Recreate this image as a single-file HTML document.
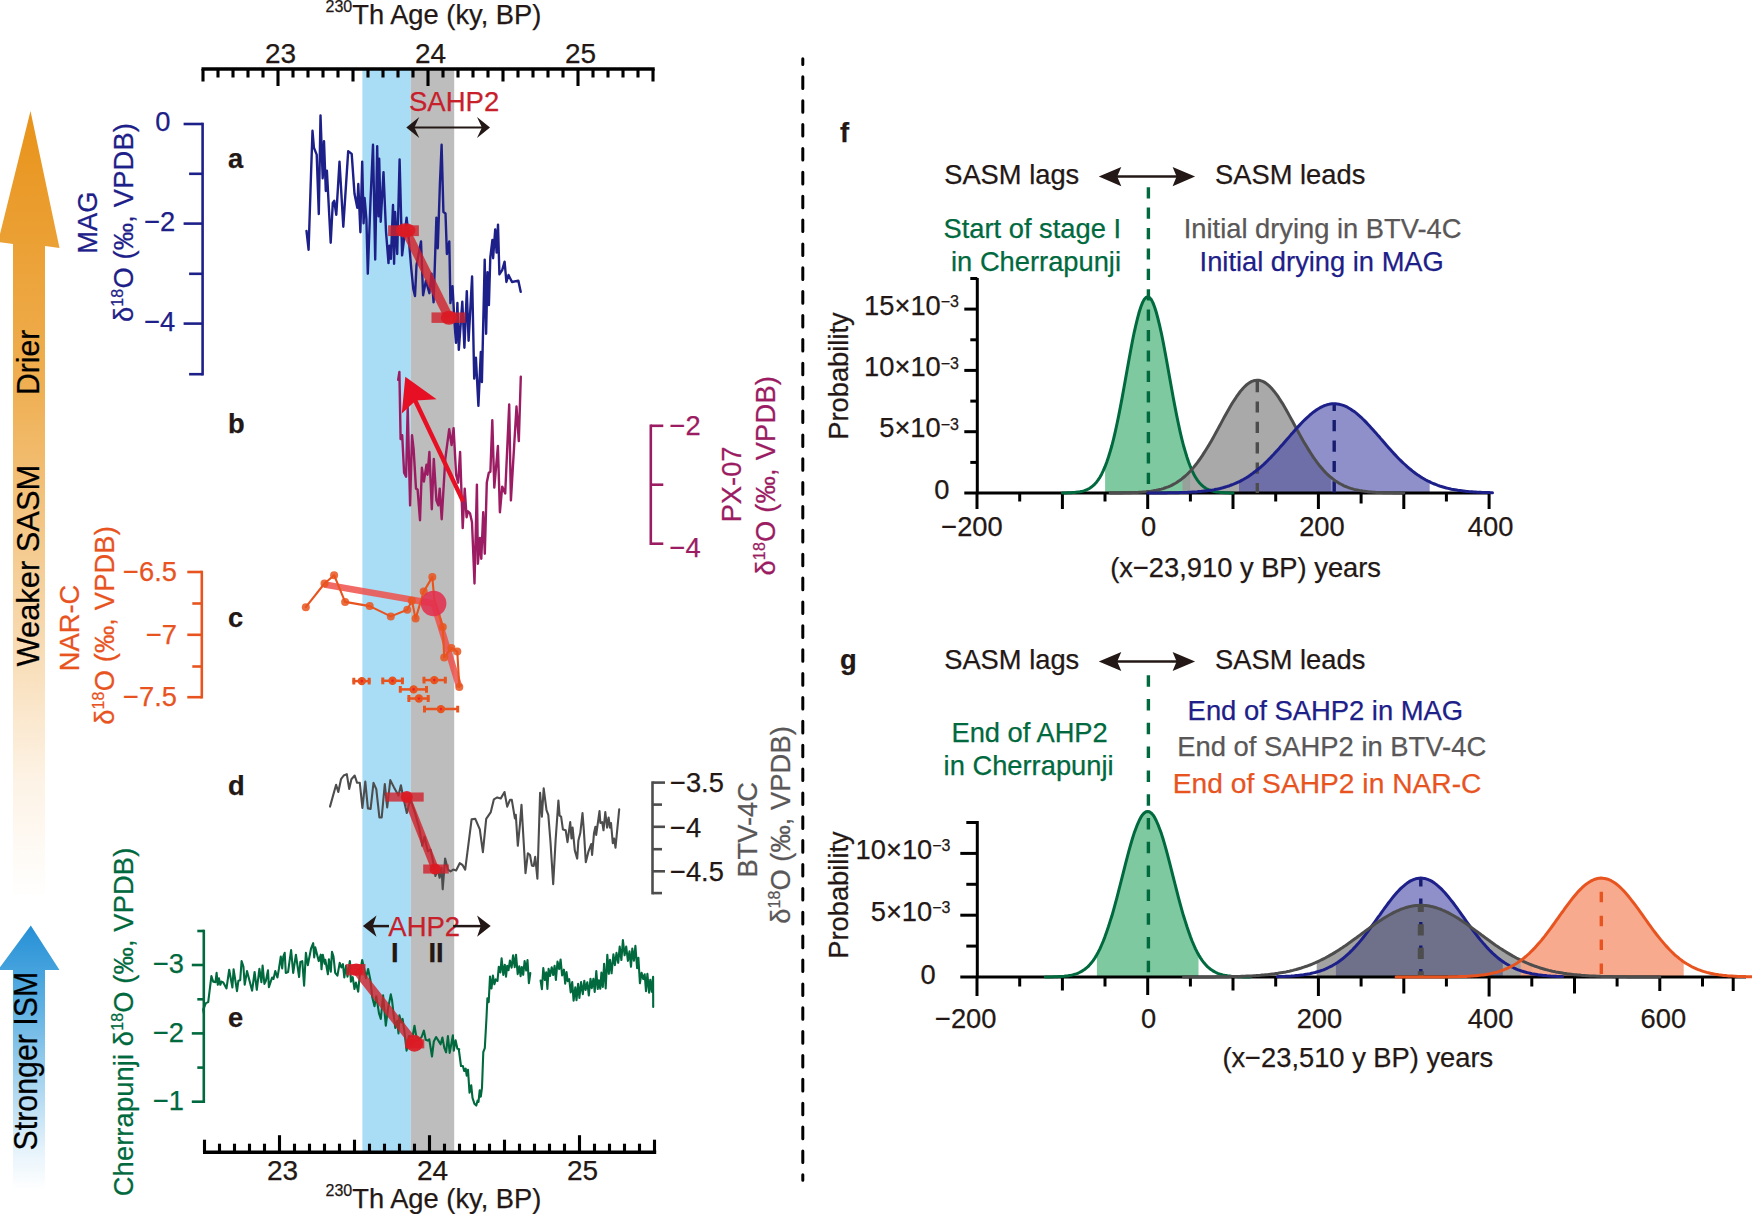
<!DOCTYPE html>
<html><head><meta charset="utf-8"><title>Figure</title>
<style>
html,body{margin:0;padding:0;background:#fff;}
svg{display:block;font-family:"Liberation Sans",sans-serif;}
</style></head><body>
<svg width="1752" height="1214" viewBox="0 0 1752 1214">
<rect width="1752" height="1214" fill="#fff"/>
<rect x="362.4" y="70" width="48.4" height="1081" fill="#a9ddf6"/>
<rect x="410.8" y="70" width="43.4" height="1081" fill="#bdbdbd"/>
<defs>
<linearGradient id="go" x1="0" y1="0" x2="0" y2="1">
<stop offset="0" stop-color="#e8931a"/><stop offset="0.35" stop-color="#efaf52"/><stop offset="0.62" stop-color="#f6d3a2"/><stop offset="0.85" stop-color="#fdf3e6"/><stop offset="1" stop-color="#ffffff"/>
</linearGradient>
<linearGradient id="gb" x1="0" y1="0" x2="0" y2="1">
<stop offset="0" stop-color="#2590d6"/><stop offset="0.3" stop-color="#5db0e2"/><stop offset="0.6" stop-color="#a8d5f0"/><stop offset="0.85" stop-color="#e6f3fb"/><stop offset="1" stop-color="#ffffff"/>
</linearGradient>
</defs>
<path d="M30.5,111 L59.5,248 L45,246 L45,900 L13,900 L13,244 L-2,242 Z" fill="url(#go)"/>
<path d="M30.8,925.5 L59.5,970 L45,970 L45,1190 L13,1190 L13,970 L-2,970 Z" fill="url(#gb)"/>
<text x="39.4" y="395.0" fill="#000" stroke="#000" stroke-width="0.25" font-size="32" text-anchor="start" font-weight="normal" transform="rotate(-90 39.4 395.0)" textLength="65.3" lengthAdjust="spacingAndGlyphs">Drier</text>
<text x="39.4" y="666.5" fill="#000" stroke="#000" stroke-width="0.25" font-size="32" text-anchor="start" font-weight="normal" transform="rotate(-90 39.4 666.5)" textLength="201.7" lengthAdjust="spacingAndGlyphs">Weaker SASM</text>
<text x="37.5" y="1150.4" fill="#000" stroke="#000" stroke-width="0.25" font-size="33" text-anchor="start" font-weight="normal" transform="rotate(-90 37.5 1150.4)" textLength="178.6" lengthAdjust="spacingAndGlyphs">Stronger ISM</text>
<line x1="201.5" y1="69" x2="654.7" y2="69" stroke="#000" stroke-width="3.3"/>
<line x1="203.0" y1="69" x2="203.0" y2="81.5" stroke="#000" stroke-width="3.1"/>
<line x1="218.0" y1="69" x2="218.0" y2="77.5" stroke="#000" stroke-width="3.1"/>
<line x1="233.0" y1="69" x2="233.0" y2="77.5" stroke="#000" stroke-width="3.1"/>
<line x1="248.0" y1="69" x2="248.0" y2="77.5" stroke="#000" stroke-width="3.1"/>
<line x1="263.0" y1="69" x2="263.0" y2="77.5" stroke="#000" stroke-width="3.1"/>
<line x1="278.0" y1="69" x2="278.0" y2="86.0" stroke="#000" stroke-width="3.1"/>
<line x1="293.0" y1="69" x2="293.0" y2="77.5" stroke="#000" stroke-width="3.1"/>
<line x1="308.0" y1="69" x2="308.0" y2="77.5" stroke="#000" stroke-width="3.1"/>
<line x1="323.0" y1="69" x2="323.0" y2="77.5" stroke="#000" stroke-width="3.1"/>
<line x1="338.0" y1="69" x2="338.0" y2="77.5" stroke="#000" stroke-width="3.1"/>
<line x1="353.0" y1="69" x2="353.0" y2="81.5" stroke="#000" stroke-width="3.1"/>
<line x1="368.0" y1="69" x2="368.0" y2="77.5" stroke="#000" stroke-width="3.1"/>
<line x1="383.0" y1="69" x2="383.0" y2="77.5" stroke="#000" stroke-width="3.1"/>
<line x1="398.0" y1="69" x2="398.0" y2="77.5" stroke="#000" stroke-width="3.1"/>
<line x1="413.0" y1="69" x2="413.0" y2="77.5" stroke="#000" stroke-width="3.1"/>
<line x1="428.0" y1="69" x2="428.0" y2="86.0" stroke="#000" stroke-width="3.1"/>
<line x1="443.0" y1="69" x2="443.0" y2="77.5" stroke="#000" stroke-width="3.1"/>
<line x1="458.0" y1="69" x2="458.0" y2="77.5" stroke="#000" stroke-width="3.1"/>
<line x1="473.0" y1="69" x2="473.0" y2="77.5" stroke="#000" stroke-width="3.1"/>
<line x1="488.0" y1="69" x2="488.0" y2="77.5" stroke="#000" stroke-width="3.1"/>
<line x1="503.0" y1="69" x2="503.0" y2="81.5" stroke="#000" stroke-width="3.1"/>
<line x1="518.0" y1="69" x2="518.0" y2="77.5" stroke="#000" stroke-width="3.1"/>
<line x1="533.0" y1="69" x2="533.0" y2="77.5" stroke="#000" stroke-width="3.1"/>
<line x1="548.0" y1="69" x2="548.0" y2="77.5" stroke="#000" stroke-width="3.1"/>
<line x1="563.0" y1="69" x2="563.0" y2="77.5" stroke="#000" stroke-width="3.1"/>
<line x1="578.0" y1="69" x2="578.0" y2="86.0" stroke="#000" stroke-width="3.1"/>
<line x1="593.0" y1="69" x2="593.0" y2="77.5" stroke="#000" stroke-width="3.1"/>
<line x1="608.0" y1="69" x2="608.0" y2="77.5" stroke="#000" stroke-width="3.1"/>
<line x1="623.0" y1="69" x2="623.0" y2="77.5" stroke="#000" stroke-width="3.1"/>
<line x1="638.0" y1="69" x2="638.0" y2="77.5" stroke="#000" stroke-width="3.1"/>
<line x1="653.0" y1="69" x2="653.0" y2="81.5" stroke="#000" stroke-width="3.1"/>
<line x1="203.0" y1="1152.2" x2="656.2" y2="1152.2" stroke="#000" stroke-width="3.6"/>
<line x1="204.5" y1="1152.2" x2="204.5" y2="1139.7" stroke="#000" stroke-width="3.1"/>
<line x1="219.5" y1="1152.2" x2="219.5" y2="1143.7" stroke="#000" stroke-width="3.1"/>
<line x1="234.5" y1="1152.2" x2="234.5" y2="1143.7" stroke="#000" stroke-width="3.1"/>
<line x1="249.5" y1="1152.2" x2="249.5" y2="1143.7" stroke="#000" stroke-width="3.1"/>
<line x1="264.5" y1="1152.2" x2="264.5" y2="1143.7" stroke="#000" stroke-width="3.1"/>
<line x1="279.5" y1="1152.2" x2="279.5" y2="1135.2" stroke="#000" stroke-width="3.1"/>
<line x1="294.5" y1="1152.2" x2="294.5" y2="1143.7" stroke="#000" stroke-width="3.1"/>
<line x1="309.5" y1="1152.2" x2="309.5" y2="1143.7" stroke="#000" stroke-width="3.1"/>
<line x1="324.5" y1="1152.2" x2="324.5" y2="1143.7" stroke="#000" stroke-width="3.1"/>
<line x1="339.5" y1="1152.2" x2="339.5" y2="1143.7" stroke="#000" stroke-width="3.1"/>
<line x1="354.5" y1="1152.2" x2="354.5" y2="1139.7" stroke="#000" stroke-width="3.1"/>
<line x1="369.5" y1="1152.2" x2="369.5" y2="1143.7" stroke="#000" stroke-width="3.1"/>
<line x1="384.5" y1="1152.2" x2="384.5" y2="1143.7" stroke="#000" stroke-width="3.1"/>
<line x1="399.5" y1="1152.2" x2="399.5" y2="1143.7" stroke="#000" stroke-width="3.1"/>
<line x1="414.5" y1="1152.2" x2="414.5" y2="1143.7" stroke="#000" stroke-width="3.1"/>
<line x1="429.5" y1="1152.2" x2="429.5" y2="1135.2" stroke="#000" stroke-width="3.1"/>
<line x1="444.5" y1="1152.2" x2="444.5" y2="1143.7" stroke="#000" stroke-width="3.1"/>
<line x1="459.5" y1="1152.2" x2="459.5" y2="1143.7" stroke="#000" stroke-width="3.1"/>
<line x1="474.5" y1="1152.2" x2="474.5" y2="1143.7" stroke="#000" stroke-width="3.1"/>
<line x1="489.5" y1="1152.2" x2="489.5" y2="1143.7" stroke="#000" stroke-width="3.1"/>
<line x1="504.5" y1="1152.2" x2="504.5" y2="1139.7" stroke="#000" stroke-width="3.1"/>
<line x1="519.5" y1="1152.2" x2="519.5" y2="1143.7" stroke="#000" stroke-width="3.1"/>
<line x1="534.5" y1="1152.2" x2="534.5" y2="1143.7" stroke="#000" stroke-width="3.1"/>
<line x1="549.5" y1="1152.2" x2="549.5" y2="1143.7" stroke="#000" stroke-width="3.1"/>
<line x1="564.5" y1="1152.2" x2="564.5" y2="1143.7" stroke="#000" stroke-width="3.1"/>
<line x1="579.5" y1="1152.2" x2="579.5" y2="1135.2" stroke="#000" stroke-width="3.1"/>
<line x1="594.5" y1="1152.2" x2="594.5" y2="1143.7" stroke="#000" stroke-width="3.1"/>
<line x1="609.5" y1="1152.2" x2="609.5" y2="1143.7" stroke="#000" stroke-width="3.1"/>
<line x1="624.5" y1="1152.2" x2="624.5" y2="1143.7" stroke="#000" stroke-width="3.1"/>
<line x1="639.5" y1="1152.2" x2="639.5" y2="1143.7" stroke="#000" stroke-width="3.1"/>
<line x1="654.5" y1="1152.2" x2="654.5" y2="1139.7" stroke="#000" stroke-width="3.1"/>
<text x="280.5" y="62.8" fill="#231815" stroke="#231815" stroke-width="0.25" font-size="28" text-anchor="middle" font-weight="normal" >23</text>
<text x="282.5" y="1180.0" fill="#231815" stroke="#231815" stroke-width="0.25" font-size="28" text-anchor="middle" font-weight="normal" >23</text>
<text x="430.5" y="62.8" fill="#231815" stroke="#231815" stroke-width="0.25" font-size="28" text-anchor="middle" font-weight="normal" >24</text>
<text x="432.5" y="1180.0" fill="#231815" stroke="#231815" stroke-width="0.25" font-size="28" text-anchor="middle" font-weight="normal" >24</text>
<text x="580.5" y="62.8" fill="#231815" stroke="#231815" stroke-width="0.25" font-size="28" text-anchor="middle" font-weight="normal" >25</text>
<text x="582.5" y="1180.0" fill="#231815" stroke="#231815" stroke-width="0.25" font-size="28" text-anchor="middle" font-weight="normal" >25</text>
<text x="325.5" y="23.5" fill="#231815" stroke="#231815" stroke-width="0.25" font-size="27.3" text-anchor="start" font-weight="normal" ><tspan font-size="16" dy="-12">230</tspan><tspan dy="12">Th Age (ky, BP)</tspan></text>
<text x="325.5" y="1207.5" fill="#231815" stroke="#231815" stroke-width="0.25" font-size="27.3" text-anchor="start" font-weight="normal" ><tspan font-size="16" dy="-12">230</tspan><tspan dy="12">Th Age (ky, BP)</tspan></text>
<line x1="202.6" y1="124.0" x2="202.6" y2="374.2" stroke="#1d2088" stroke-width="2.6" stroke-linecap="square"/>
<line x1="202.6" y1="124.0" x2="183.6" y2="124.0" stroke="#1d2088" stroke-width="2.6"/>
<line x1="202.6" y1="223.6" x2="183.6" y2="223.6" stroke="#1d2088" stroke-width="2.6"/>
<line x1="202.6" y1="323.6" x2="183.6" y2="323.6" stroke="#1d2088" stroke-width="2.6"/>
<line x1="202.6" y1="173.8" x2="189.1" y2="173.8" stroke="#1d2088" stroke-width="2.6"/>
<line x1="202.6" y1="273.8" x2="189.1" y2="273.8" stroke="#1d2088" stroke-width="2.6"/>
<line x1="202.6" y1="374.2" x2="189.1" y2="374.2" stroke="#1d2088" stroke-width="2.6"/>
<text x="170.5" y="131.4" fill="#1d2088" stroke="#1d2088" stroke-width="0.25" font-size="27.3" text-anchor="end" font-weight="normal" >0</text>
<text x="175.3" y="231.0" fill="#1d2088" stroke="#1d2088" stroke-width="0.25" font-size="27.3" text-anchor="end" font-weight="normal" >−2</text>
<text x="175.3" y="331.0" fill="#1d2088" stroke="#1d2088" stroke-width="0.25" font-size="27.3" text-anchor="end" font-weight="normal" >−4</text>
<text x="97.5" y="222.6" fill="#1d2088" stroke="#1d2088" stroke-width="0.25" font-size="27.3" text-anchor="middle" font-weight="normal" transform="rotate(-90 97.5 222.6)" >MAG</text>
<text x="133.0" y="222.6" fill="#1d2088" stroke="#1d2088" stroke-width="0.25" font-size="27.3" text-anchor="middle" font-weight="normal" transform="rotate(-90 133.0 222.6)" textLength="199">δ<tspan font-size="16" dy="-10">18</tspan><tspan dy="10">O (‰, VPDB)</tspan></text>
<line x1="201.8" y1="572.0" x2="201.8" y2="697.2" stroke="#e8541f" stroke-width="2.6" stroke-linecap="square"/>
<line x1="201.8" y1="572.0" x2="187.3" y2="572.0" stroke="#e8541f" stroke-width="2.6"/>
<line x1="201.8" y1="634.8" x2="187.3" y2="634.8" stroke="#e8541f" stroke-width="2.6"/>
<line x1="201.8" y1="697.2" x2="187.3" y2="697.2" stroke="#e8541f" stroke-width="2.6"/>
<line x1="201.8" y1="603.5" x2="192.3" y2="603.5" stroke="#e8541f" stroke-width="2.6"/>
<line x1="201.8" y1="666.5" x2="192.3" y2="666.5" stroke="#e8541f" stroke-width="2.6"/>
<text x="177.0" y="580.7" fill="#e8541f" stroke="#e8541f" stroke-width="0.25" font-size="27.3" text-anchor="end" font-weight="normal" >−6.5</text>
<text x="177.0" y="643.5" fill="#e8541f" stroke="#e8541f" stroke-width="0.25" font-size="27.3" text-anchor="end" font-weight="normal" >−7</text>
<text x="177.0" y="705.9" fill="#e8541f" stroke="#e8541f" stroke-width="0.25" font-size="27.3" text-anchor="end" font-weight="normal" >−7.5</text>
<text x="78.6" y="628.0" fill="#e8541f" stroke="#e8541f" stroke-width="0.25" font-size="27.3" text-anchor="middle" font-weight="normal" transform="rotate(-90 78.6 628.0)" >NAR-C</text>
<text x="114.2" y="625.5" fill="#e8541f" stroke="#e8541f" stroke-width="0.25" font-size="27.3" text-anchor="middle" font-weight="normal" transform="rotate(-90 114.2 625.5)" textLength="198.5">δ<tspan font-size="16" dy="-10">18</tspan><tspan dy="10">O (‰, VPDB)</tspan></text>
<line x1="203.8" y1="931.0" x2="203.8" y2="1101.7" stroke="#00693e" stroke-width="2.6" stroke-linecap="square"/>
<line x1="203.8" y1="965.0" x2="191.8" y2="965.0" stroke="#00693e" stroke-width="2.6"/>
<line x1="203.8" y1="1033.4" x2="191.8" y2="1033.4" stroke="#00693e" stroke-width="2.6"/>
<line x1="203.8" y1="1101.7" x2="191.8" y2="1101.7" stroke="#00693e" stroke-width="2.6"/>
<line x1="203.8" y1="931.0" x2="197.3" y2="931.0" stroke="#00693e" stroke-width="2.6"/>
<line x1="203.8" y1="999.3" x2="197.3" y2="999.3" stroke="#00693e" stroke-width="2.6"/>
<line x1="203.8" y1="1067.6" x2="197.3" y2="1067.6" stroke="#00693e" stroke-width="2.6"/>
<text x="184.0" y="973.2" fill="#00693e" stroke="#00693e" stroke-width="0.25" font-size="27.3" text-anchor="end" font-weight="normal" >−3</text>
<text x="184.0" y="1041.6" fill="#00693e" stroke="#00693e" stroke-width="0.25" font-size="27.3" text-anchor="end" font-weight="normal" >−2</text>
<text x="184.0" y="1109.9" fill="#00693e" stroke="#00693e" stroke-width="0.25" font-size="27.3" text-anchor="end" font-weight="normal" >−1</text>
<text x="133.0" y="1022.0" fill="#00693e" stroke="#00693e" stroke-width="0.25" font-size="27.3" text-anchor="middle" font-weight="normal" transform="rotate(-90 133.0 1022.0)" textLength="348.5">Cherrapunji δ<tspan font-size="16" dy="-10">18</tspan><tspan dy="10">O (‰, VPDB)</tspan></text>
<line x1="650.8" y1="425.8" x2="650.8" y2="543.7" stroke="#9b1c62" stroke-width="2.6" stroke-linecap="square"/>
<line x1="650.8" y1="425.8" x2="663.3" y2="425.8" stroke="#9b1c62" stroke-width="2.6"/>
<line x1="650.8" y1="484.7" x2="663.3" y2="484.7" stroke="#9b1c62" stroke-width="2.6"/>
<line x1="650.8" y1="543.7" x2="663.3" y2="543.7" stroke="#9b1c62" stroke-width="2.6"/>
<text x="669.5" y="434.5" fill="#9b1c62" stroke="#9b1c62" stroke-width="0.25" font-size="27.3" text-anchor="start" font-weight="normal" >−2</text>
<text x="669.5" y="557.0" fill="#9b1c62" stroke="#9b1c62" stroke-width="0.25" font-size="27.3" text-anchor="start" font-weight="normal" >−4</text>
<text x="741.0" y="484.4" fill="#9b1c62" stroke="#9b1c62" stroke-width="0.25" font-size="27.3" text-anchor="middle" font-weight="normal" transform="rotate(-90 741.0 484.4)" >PX-07</text>
<text x="775.0" y="475.8" fill="#9b1c62" stroke="#9b1c62" stroke-width="0.25" font-size="27.3" text-anchor="middle" font-weight="normal" transform="rotate(-90 775.0 475.8)" textLength="199.5">δ<tspan font-size="16" dy="-10">18</tspan><tspan dy="10">O (‰, VPDB)</tspan></text>
<line x1="652.5" y1="782.6" x2="652.5" y2="893.1" stroke="#4d4d4d" stroke-width="2.6" stroke-linecap="square"/>
<line x1="652.5" y1="782.6" x2="665.0" y2="782.6" stroke="#4d4d4d" stroke-width="2.6"/>
<line x1="652.5" y1="826.8" x2="665.0" y2="826.8" stroke="#4d4d4d" stroke-width="2.6"/>
<line x1="652.5" y1="871.3" x2="665.0" y2="871.3" stroke="#4d4d4d" stroke-width="2.6"/>
<line x1="652.5" y1="804.6" x2="662.0" y2="804.6" stroke="#4d4d4d" stroke-width="2.6"/>
<line x1="652.5" y1="849.2" x2="662.0" y2="849.2" stroke="#4d4d4d" stroke-width="2.6"/>
<line x1="652.5" y1="893.1" x2="662.0" y2="893.1" stroke="#4d4d4d" stroke-width="2.6"/>
<text x="670.0" y="792.3" fill="#231815" stroke="#231815" stroke-width="0.25" font-size="27.3" text-anchor="start" font-weight="normal" >−3.5</text>
<text x="670.0" y="836.5" fill="#231815" stroke="#231815" stroke-width="0.25" font-size="27.3" text-anchor="start" font-weight="normal" >−4</text>
<text x="670.0" y="881.0" fill="#231815" stroke="#231815" stroke-width="0.25" font-size="27.3" text-anchor="start" font-weight="normal" >−4.5</text>
<text x="757.5" y="829.8" fill="#595757" stroke="#595757" stroke-width="0.25" font-size="27.3" text-anchor="middle" font-weight="normal" transform="rotate(-90 757.5 829.8)" >BTV-4C</text>
<text x="789.6" y="825.0" fill="#595757" stroke="#595757" stroke-width="0.25" font-size="27.3" text-anchor="middle" font-weight="normal" transform="rotate(-90 789.6 825.0)" textLength="197.5">δ<tspan font-size="16" dy="-10">18</tspan><tspan dy="10">O (‰, VPDB)</tspan></text>
<polyline points="306.5,230.9 308.6,249.8 310.7,184.0 312.5,130.8 313.9,147.6 316.7,154.6 318.8,214.1 320.5,115.4 322.7,178.4 324.0,141.3 325.8,191.0 326.9,170.7 330.7,242.8 332.8,202.9 334.2,200.8 336.3,214.8 339.5,161.6 343.3,226.7 348.2,151.1 351.7,153.9 354.5,193.8 357.3,207.8 358.3,184.0 360.4,232.3 362.2,161.6 363.6,223.2 364.6,198.0 366.4,219.0 367.8,273.6 370.6,198.0 373.0,144.8 375.2,259.6 377.2,146.2 378.5,216.2 379.2,158.8 380.7,221.8 383.5,172.1 386.0,231.6 388.5,263.1 389.5,245.6 390.9,258.9 393.0,205.0 394.1,263.8 395.1,212.0 397.2,254.0 399.6,159.5 402.1,255.4 406.6,217.6 408.4,234.4 411.2,268.0 413.3,289.0 415.0,296.0 416.5,265.2 421.0,241.4 423.1,295.3 425.9,280.6 429.4,293.2 431.5,273.6 433.6,302.3 436.4,217.6 437.8,248.4 439.9,184.0 441.6,144.8 443.4,212.0 445.5,213.4 446.9,254.0 449.3,241.4 450.4,303.0 452.5,286.2 454.6,324.0 456.0,342.9 457.4,303.0 458.8,349.9 462.3,301.6 464.4,347.8 466.8,291.1 468.6,340.8 472.1,276.4 474.2,378.6 475.9,357.6 478.4,405.9 480.8,352.0 481.9,382.1 484.7,259.6 486.1,333.8 487.5,272.2 488.9,305.1 490.3,257.5 492.4,240.0 493.1,258.2 495.2,229.5 496.6,252.6 498.0,224.6 499.4,274.3 502.2,270.1 504.6,261.7 506.4,282.0 508.5,275.0 512.0,282.0 518.3,280.6 520.7,291.8" fill="none" stroke="#1d2088" stroke-width="2.4" stroke-linejoin="round" stroke-linecap="round" />
<polyline points="398.2,379.8 399.4,371.9 400.6,439.1 402.2,435.2 404.1,472.7 406.1,476.7 407.7,407.5 410.1,505.4 412.0,435.2 413.6,449.0 416.0,488.6 417.6,489.5 420.0,520.2 421.9,467.8 423.9,481.6 426.5,464.8 427.5,474.7 429.4,452.0 431.8,509.3 433.8,458.9 436.4,500.4 438.3,505.4 439.7,488.6 441.7,519.2 445.3,458.9 449.2,429.2 451.6,445.0 453.6,428.2 456.1,474.7 458.1,482.6 460.1,452.0 462.7,528.1 464.7,488.6 466.6,517.2 468.0,511.3 470.0,513.3 472.0,522.2 474.5,583.5 476.9,484.6 477.9,563.7 479.9,538.0 481.3,558.8 483.2,512.3 484.8,553.8 486.8,482.6 488.8,472.7 490.4,471.7 492.3,420.3 494.3,487.6 497.9,446.0 499.9,512.3 502.2,486.6 505.2,493.5 509.2,404.5 510.9,500.4 516.5,406.5 518.8,441.1 520.8,376.8" fill="none" stroke="#9b1c62" stroke-width="2.4" stroke-linejoin="round" stroke-linecap="round" />
<polyline points="330.0,806.6 336.1,784.7 338.3,792.0 341.0,779.2 343.7,775.5 346.8,774.2 349.2,788.9 351.4,779.2 354.7,775.5 357.1,782.8 359.8,782.8 362.4,807.9 365.3,781.6 367.9,808.4 370.6,808.9 373.5,782.8 376.3,789.2 379.4,817.5 381.7,817.5 384.8,784.1 387.2,807.5 390.3,780.1 394.0,787.4 398.5,795.6 400.9,785.2 403.1,796.5 406.8,813.0 410.4,799.3 415.0,813.0 419.5,829.4 422.3,845.8 424.5,836.7 427.8,851.3 430.5,849.5 433.2,862.3 435.4,876.0 437.8,869.6 439.6,877.8 441.5,867.8 442.7,889.3 445.1,858.6 447.9,869.6 450.6,871.4 453.3,869.6 456.1,870.5 459.7,863.2 462.5,865.0 465.2,869.6 471.6,819.4 475.3,818.8 479.8,829.4 482.9,852.2 486.2,818.8 490.8,812.1 493.9,799.3 497.2,797.4 500.8,798.4 504.5,792.0 507.2,806.6 510.0,799.8 511.8,799.8 514.9,818.4 515.8,814.8 517.8,845.8 520.0,823.9 521.5,804.7 525.5,873.2 527.9,853.2 530.0,855.0 531.9,865.6 533.7,865.9 535.2,856.8 537.4,878.7 540.1,792.9 541.9,816.6 543.7,788.3 546.5,810.2 548.3,814.8 550.5,842.2 553.2,884.2 555.6,840.4 558.4,800.5 559.6,815.7 561.1,816.6 562.9,829.4 565.7,830.3 567.5,842.2 570.2,822.1 571.5,838.5 572.6,827.6 574.8,850.4 577.2,858.6 578.4,840.4 580.3,833.1 582.5,813.0 583.9,831.2 585.8,862.3 588.5,851.3 591.2,844.0 592.1,855.0 594.0,833.1 595.4,826.7 596.2,834.9 599.5,811.1 600.4,823.0 602.2,822.1 603.5,830.3 605.3,812.1 607.1,827.6 608.6,817.5 610.0,827.6 611.0,823.0 612.8,843.1 614.1,838.5 615.5,847.7 619.2,809.3" fill="none" stroke="#4d4d4d" stroke-width="2.1" stroke-linejoin="round" stroke-linecap="round" />
<polyline points="203.8,1013.0 203.2,1009.5 205.9,1003.1 208.2,1002.1 211.4,976.1 213.2,981.6 215.5,982.1 216.6,972.9 217.8,984.8 219.0,978.4 220.3,984.8 221.5,981.6 223.3,982.5 226.5,988.4 229.2,969.7 232.4,987.5 233.6,969.3 237.0,991.2 238.4,980.7 240.2,980.2 241.6,961.1 243.4,966.5 244.7,984.8 247.0,971.1 252.1,990.7 254.6,972.0 256.8,989.8 259.4,968.8 261.4,982.1 262.6,965.6 264.4,983.9 265.8,981.1 268.0,970.2 268.9,987.1 272.1,977.5 273.5,978.9 275.3,971.1 277.4,977.5 279.0,968.4 280.8,956.5 282.2,968.4 283.3,956.5 284.7,952.8 285.8,972.9 288.1,972.0 289.0,965.2 291.1,950.1 293.2,972.9 295.9,954.7 299.1,977.0 300.3,962.0 302.3,961.1 304.1,985.7 305.9,952.8 307.8,965.2 311.0,948.7 313.2,943.2 314.2,957.4 315.3,947.4 318.7,961.1 320.7,954.7 321.5,969.3 322.8,954.7 324.7,963.8 325.3,959.7 327.9,974.3 328.9,959.2 330.8,971.6 332.0,951.9 333.5,956.5 335.2,972.9 337.4,975.7 339.7,962.9 341.4,967.4 342.9,964.2 344.3,977.5 346.1,965.6 347.5,976.6 349.8,961.1 350.0,961.8 350.9,981.7 352.7,977.2 354.5,989.0 355.9,982.6 358.2,991.7 360.0,972.7 362.2,960.0 364.5,969.9 365.9,978.1 368.1,969.0 370.4,979.9 372.2,997.1 374.5,1006.2 376.3,996.2 379.0,1013.4 380.8,1018.9 383.1,995.3 385.8,1025.7 388.1,1008.0 390.8,994.4 392.1,1000.8 393.5,1013.4 395.3,1027.9 397.1,1020.7 398.5,1033.4 399.4,1015.3 401.2,1022.5 402.6,1018.9 404.4,1031.6 406.6,1050.6 408.9,1036.1 412.5,1037.0 414.5,1025.7 416.2,1036.1 418.9,1039.7 421.6,1037.0 423.9,1030.7 425.7,1039.7 427.9,1040.6 429.3,1039.3 432.0,1056.5 433.8,1041.5 436.1,1037.0 438.4,1040.6 440.6,1044.3 442.4,1037.5 444.3,1047.9 446.1,1052.4 447.9,1036.1 449.7,1052.9 452.9,1035.2 453.8,1050.6 455.6,1040.2 457.4,1048.8 459.2,1049.2 458.8,1049.4 461.0,1066.0 462.9,1066.0 464.2,1071.1 465.7,1068.6 466.7,1075.6 468.0,1069.8 469.5,1092.8 471.2,1085.2 472.5,1097.9 474.4,1103.7 476.3,1105.6 477.6,1100.5 478.5,1101.8 479.7,1090.3 480.8,1096.7 482.0,1087.7 483.3,1052.0 484.8,1048.1 486.5,1017.5 487.4,998.3 488.7,1002.1 490.0,976.6 490.0,976.9 491.5,988.5 492.9,975.6 494.4,984.3 495.8,979.4 497.5,981.0 498.8,966.7 500.4,972.4 501.6,958.4 503.3,974.9 504.8,964.7 506.0,976.7 507.2,965.8 508.5,970.3 509.9,960.6 511.6,967.7 513.1,955.3 514.7,967.2 516.0,954.7 517.7,974.1 519.3,966.4 520.6,976.1 521.8,967.0 523.2,974.8 524.6,961.0 526.2,970.5 527.5,960.1 528.9,983.2 530.3,973.1" fill="none" stroke="#00693e" stroke-width="2.1" stroke-linejoin="round" stroke-linecap="round" />
<polyline points="540.6,980.5 541.9,989.2 543.3,968.1 544.9,980.0 546.2,972.4 547.4,989.0 548.6,968.9 550.1,976.0 551.7,967.2 553.2,975.0 554.6,965.7 555.9,980.0 557.5,961.5 559.2,969.1 560.6,959.5 562.1,975.4 563.9,969.7 565.2,983.6 566.5,972.0 567.7,981.1 569.2,979.0 570.7,992.4 572.2,982.1 573.6,1000.7 575.3,987.3 576.5,1000.1 578.1,983.9 579.4,997.9 581.1,982.1 582.8,994.1 584.3,980.7 585.6,989.9 587.3,982.2 588.8,995.5 590.5,978.7 591.8,988.1 593.4,978.8 594.7,992.0 596.3,971.1 597.7,989.0 598.9,980.3 600.3,988.8 601.4,972.6 602.8,987.0 604.1,963.7 605.7,988.4 607.3,954.7 608.8,973.8 610.0,959.9 611.6,973.3 613.4,954.3 614.9,965.1 616.5,952.9 618.2,962.8 619.7,946.6 621.4,960.0 622.9,940.0 624.6,955.3 626.2,946.5 627.9,960.9 629.5,951.3 631.0,966.8 632.3,948.5 633.9,960.7 635.4,945.8 637.1,968.1 638.4,957.8 639.9,983.3 641.6,972.7 643.2,979.1 644.7,974.3 646.0,991.1 647.4,973.9 649.1,992.6 650.3,979.7 651.8,991.8 653.1,976.7 653.2,1007.0" fill="none" stroke="#00693e" stroke-width="2.1" stroke-linejoin="round" stroke-linecap="round" />
<line x1="324.5" y1="584.5" x2="433.6" y2="603.5" stroke="#f0504a" stroke-opacity="0.85" stroke-width="6.5"/>
<line x1="433.6" y1="603.5" x2="459.3" y2="687.1" stroke="#f0504a" stroke-opacity="0.85" stroke-width="6.5"/>
<polyline points="305.8,607.2 324.5,583.5 334.1,575.2 345.1,601.9 369.7,606.1 390.8,616.4 407.3,609.8 411.9,600.8 415.6,618.6 423.7,591.6 432.3,577.1 434.3,599.5 442.8,626.9 444.2,657.5 451.4,648.0 457.3,651.6 459.3,687.1" fill="none" stroke="#e8541f" stroke-width="2.1" stroke-linejoin="round" stroke-linecap="round" />
<circle cx="305.8" cy="607.2" r="4" fill="#e8541f" fill-opacity="0.85"/>
<circle cx="324.5" cy="583.5" r="4" fill="#e8541f" fill-opacity="0.85"/>
<circle cx="334.1" cy="575.2" r="4" fill="#e8541f" fill-opacity="0.85"/>
<circle cx="345.1" cy="601.9" r="4" fill="#e8541f" fill-opacity="0.85"/>
<circle cx="369.7" cy="606.1" r="4" fill="#e8541f" fill-opacity="0.85"/>
<circle cx="390.8" cy="616.4" r="4" fill="#e8541f" fill-opacity="0.85"/>
<circle cx="407.3" cy="609.8" r="4" fill="#e8541f" fill-opacity="0.85"/>
<circle cx="411.9" cy="600.8" r="4" fill="#e8541f" fill-opacity="0.85"/>
<circle cx="415.6" cy="618.6" r="4" fill="#e8541f" fill-opacity="0.85"/>
<circle cx="423.7" cy="591.6" r="4" fill="#e8541f" fill-opacity="0.85"/>
<circle cx="432.3" cy="577.1" r="4" fill="#e8541f" fill-opacity="0.85"/>
<circle cx="442.8" cy="626.9" r="4" fill="#e8541f" fill-opacity="0.85"/>
<circle cx="444.2" cy="657.5" r="4" fill="#e8541f" fill-opacity="0.85"/>
<circle cx="451.4" cy="648.0" r="4" fill="#e8541f" fill-opacity="0.85"/>
<circle cx="457.3" cy="651.6" r="4" fill="#e8541f" fill-opacity="0.85"/>
<circle cx="459.3" cy="687.1" r="4" fill="#e8541f" fill-opacity="0.85"/>
<circle cx="433.6" cy="603.5" r="12.8" fill="#e2304f" fill-opacity="0.88"/>
<path d="M352.6,681.1 H370.4" stroke="#e8541f" stroke-width="2.5" fill="none"/>
<path d="M353.8,677.7 V684.5 M369.2,677.7 V684.5" stroke="#e8541f" stroke-width="3" fill="none"/>
<circle cx="361.8" cy="681.1" r="4.2" fill="#e8541f"/>
<circle cx="361.8" cy="681.1" r="1.3" fill="#e8202e"/>
<path d="M381.6,680.8 H403.6" stroke="#e8541f" stroke-width="2.5" fill="none"/>
<path d="M382.8,677.4 V684.2 M402.4,677.4 V684.2" stroke="#e8541f" stroke-width="3" fill="none"/>
<circle cx="392.5" cy="680.8" r="4.2" fill="#e8541f"/>
<circle cx="392.5" cy="680.8" r="1.3" fill="#e8202e"/>
<path d="M422.8,680.1 H446.5" stroke="#e8541f" stroke-width="2.5" fill="none"/>
<path d="M424.0,676.7 V683.5 M445.3,676.7 V683.5" stroke="#e8541f" stroke-width="3" fill="none"/>
<circle cx="434.3" cy="680.1" r="4.2" fill="#e8541f"/>
<circle cx="434.3" cy="680.1" r="1.3" fill="#e8202e"/>
<path d="M399.1,689.4 H427.7" stroke="#e8541f" stroke-width="2.5" fill="none"/>
<path d="M400.3,686.0 V692.8 M426.5,686.0 V692.8" stroke="#e8541f" stroke-width="3" fill="none"/>
<circle cx="413.6" cy="689.4" r="4.2" fill="#e8541f"/>
<circle cx="413.6" cy="689.4" r="1.3" fill="#e8202e"/>
<path d="M407.7,698.5 H429.4" stroke="#e8541f" stroke-width="2.5" fill="none"/>
<path d="M408.9,695.1 V701.9 M428.2,695.1 V701.9" stroke="#e8541f" stroke-width="3" fill="none"/>
<circle cx="418.9" cy="698.5" r="4.2" fill="#e8541f"/>
<circle cx="418.9" cy="698.5" r="1.3" fill="#e8202e"/>
<path d="M423.3,709.1 H458.9" stroke="#e8541f" stroke-width="2.5" fill="none"/>
<path d="M424.5,705.7 V712.5 M457.7,705.7 V712.5" stroke="#e8541f" stroke-width="3" fill="none"/>
<circle cx="440.9" cy="709.1" r="4.2" fill="#e8541f"/>
<circle cx="440.9" cy="709.1" r="1.3" fill="#e8202e"/>
<rect x="388.1" y="225.3" width="30.8" height="10.8" fill="#d0222c" fill-opacity="0.8"/>
<rect x="431.5" y="312.4" width="34.0" height="10.5" fill="#d0222c" fill-opacity="0.8"/>
<line x1="405.6" y1="230.4" x2="449.0" y2="317.7" stroke="#d0222c" stroke-opacity="0.8" stroke-width="9"/>
<ellipse cx="405.6" cy="230.4" rx="9.8" ry="7.2" fill="#dc1a22" fill-opacity="0.9"/>
<ellipse cx="449.0" cy="317.7" rx="8.2" ry="7.0" fill="#dc1a22" fill-opacity="0.9"/>
<rect x="385.4" y="792.5" width="38.3" height="9.1" fill="#d0222c" fill-opacity="0.8"/>
<rect x="423.2" y="864.5" width="25.6" height="9.1" fill="#d0222c" fill-opacity="0.8"/>
<line x1="406.8" y1="797.1" x2="435.1" y2="869.0" stroke="#d0222c" stroke-opacity="0.8" stroke-width="7.6"/>
<ellipse cx="406.8" cy="797.1" rx="6.0" ry="6.0" fill="#dc1a22" fill-opacity="0.9"/>
<ellipse cx="435.1" cy="869.0" rx="5.6" ry="5.6" fill="#dc1a22" fill-opacity="0.9"/>
<rect x="346.2" y="964.0" width="19.3" height="11.4" fill="#d0222c" fill-opacity="0.8"/>
<rect x="405.0" y="1039.3" width="19.3" height="9.1" fill="#d0222c" fill-opacity="0.8"/>
<line x1="356.3" y1="969.6" x2="414.4" y2="1043.4" stroke="#d0222c" stroke-opacity="0.8" stroke-width="9"/>
<ellipse cx="356.3" cy="969.6" rx="7.5" ry="6.2" fill="#dc1a22" fill-opacity="0.9"/>
<ellipse cx="414.4" cy="1043.4" rx="8.6" ry="8.4" fill="#dc1a22" fill-opacity="0.9"/>
<line x1="463.1" y1="501.4" x2="414" y2="398" stroke="#e60f23" stroke-width="4.4"/>
<path d="M405.3,376.8 L436.6,399.2 L415.8,400.6 L401.8,413.6 Z" fill="#e60f23"/>
<text x="409.0" y="111.0" fill="#c8202b" stroke="#c8202b" stroke-width="0.25" font-size="27.5" text-anchor="start" font-weight="normal" >SAHP2</text>
<line x1="414.0" y1="127.6" x2="482.3" y2="127.6" stroke="#231815" stroke-width="2"/>
<path d="M406.3,127.6 L419.3,117.1 L414.4,127.6 L419.3,138.1 Z" fill="#231815"/>
<path d="M490.0,127.6 L477.0,117.1 L481.9,127.6 L477.0,138.1 Z" fill="#231815"/>
<text x="388.3" y="935.8" fill="#c8202b" stroke="#c8202b" stroke-width="0.25" font-size="27.5" text-anchor="start" font-weight="normal" >AHP2</text>
<line x1="372.3" y1="926.1" x2="389.0" y2="926.1" stroke="#231815" stroke-width="2.5"/>
<path d="M362.9,926.1 L376.5,915.4 L372.8,926.1 L376.5,936.8 Z" fill="#231815"/>
<line x1="453.1" y1="926.1" x2="481.3" y2="926.1" stroke="#231815" stroke-width="2.5"/>
<path d="M490.7,926.1 L477.1,915.4 L480.8,926.1 L477.1,936.8 Z" fill="#231815"/>
<text x="394.8" y="961.9" fill="#231815" stroke="#231815" stroke-width="0.25" font-size="27.3" text-anchor="middle" font-weight="bold" >I</text>
<text x="436.0" y="961.9" fill="#231815" stroke="#231815" stroke-width="0.25" font-size="27.3" text-anchor="middle" font-weight="bold" >II</text>
<text x="228.0" y="167.5" fill="#231815" stroke="#231815" stroke-width="0.25" font-size="27.3" text-anchor="start" font-weight="bold" >a</text>
<text x="228.0" y="432.5" fill="#231815" stroke="#231815" stroke-width="0.25" font-size="27.3" text-anchor="start" font-weight="bold" >b</text>
<text x="228.0" y="627.0" fill="#231815" stroke="#231815" stroke-width="0.25" font-size="27.3" text-anchor="start" font-weight="bold" >c</text>
<text x="228.0" y="794.5" fill="#231815" stroke="#231815" stroke-width="0.25" font-size="27.3" text-anchor="start" font-weight="bold" >d</text>
<text x="228.0" y="1027.0" fill="#231815" stroke="#231815" stroke-width="0.25" font-size="27.3" text-anchor="start" font-weight="bold" >e</text>
<path d="M802.8,58.7 V64.5 M802.8,76.8 V88.4 M802.8,100.7 V112.3 M802.8,124.5 V136.1 M802.8,148.4 V160.0 M802.8,172.3 V183.9 M802.8,196.2 V207.8 M802.8,220.0 V231.6 M802.8,243.9 V255.5 M802.8,267.8 V279.4 M802.8,291.6 V303.2 M802.8,315.5 V327.1 M802.8,339.4 V351.0 M802.8,363.2 V374.8 M802.8,387.1 V398.7 M802.8,411.0 V422.6 M802.8,434.9 V446.5 M802.8,458.7 V470.3 M802.8,482.6 V494.2 M802.8,506.5 V518.1 M802.8,530.3 V541.9 M802.8,554.2 V565.8 M802.8,578.1 V589.7 M802.8,601.9 V613.5 M802.8,625.8 V637.4 M802.8,649.7 V661.3 M802.8,673.6 V685.2 M802.8,697.4 V709.0 M802.8,721.3 V732.9 M802.8,745.2 V756.8 M802.8,769.0 V780.6 M802.8,792.9 V804.5 M802.8,816.8 V828.4 M802.8,840.6 V852.2 M802.8,864.5 V876.1 M802.8,888.4 V900.0 M802.8,912.3 V923.9 M802.8,936.1 V947.7 M802.8,960.0 V971.6 M802.8,983.9 V995.5 M802.8,1007.7 V1019.3 M802.8,1031.6 V1043.2 M802.8,1055.5 V1067.1 M802.8,1079.3 V1090.9 M802.8,1103.2 V1114.8 M802.8,1127.1 V1138.7 M802.8,1150.9 V1162.5 M802.8,1174.8 V1180.3" stroke="#000" stroke-width="3" stroke-linecap="round" fill="none"/>
<path d="M1105.1,493.0 L1105.1,466.5 L1106.2,463.7 L1107.3,460.7 L1108.3,457.6 L1109.4,454.2 L1110.5,450.6 L1111.5,446.8 L1112.6,442.7 L1113.7,438.5 L1114.7,434.0 L1115.8,429.3 L1116.8,424.4 L1117.9,419.4 L1119.0,414.1 L1120.0,408.7 L1121.1,403.2 L1122.2,397.5 L1123.2,391.7 L1124.3,385.9 L1125.4,380.0 L1126.4,374.0 L1127.5,368.1 L1128.5,362.2 L1129.6,356.3 L1130.7,350.6 L1131.7,344.9 L1132.8,339.5 L1133.9,334.2 L1134.9,329.2 L1136.0,324.4 L1137.1,319.9 L1138.1,315.7 L1139.2,311.9 L1140.3,308.5 L1141.3,305.5 L1142.4,302.9 L1143.4,300.7 L1144.5,299.0 L1145.6,297.8 L1146.6,297.1 L1147.7,296.8 L1148.8,297.1 L1149.8,297.8 L1150.9,299.0 L1152.0,300.7 L1153.0,302.9 L1154.1,305.5 L1155.1,308.5 L1156.2,311.9 L1157.3,315.7 L1158.3,319.9 L1159.4,324.4 L1160.5,329.2 L1161.5,334.2 L1162.6,339.5 L1163.7,344.9 L1164.7,350.6 L1165.8,356.3 L1166.9,362.2 L1167.9,368.1 L1169.0,374.0 L1170.0,380.0 L1171.1,385.9 L1172.2,391.7 L1173.2,397.5 L1174.3,403.2 L1175.4,408.7 L1176.4,414.1 L1177.5,419.4 L1178.6,424.4 L1179.6,429.3 L1180.7,434.0 L1181.7,438.5 L1182.8,442.7 L1183.9,446.8 L1184.9,450.6 L1186.0,454.2 L1187.1,457.6 L1188.1,460.7 L1189.2,463.7 L1190.3,466.5 L1190.3,493.0 Z" fill="#7fc9a0" fill-opacity="1"/>
<path d="M1182.4,493.0 L1182.4,478.5 L1184.2,476.9 L1186.1,475.3 L1187.9,473.5 L1189.8,471.6 L1191.6,469.6 L1193.5,467.5 L1195.3,465.2 L1197.2,462.8 L1199.1,460.3 L1200.9,457.6 L1202.8,454.9 L1204.6,452.0 L1206.5,449.0 L1208.3,446.0 L1210.2,442.8 L1212.1,439.6 L1213.9,436.2 L1215.8,432.9 L1217.6,429.5 L1219.5,426.1 L1221.3,422.6 L1223.2,419.2 L1225.0,415.8 L1226.9,412.5 L1228.8,409.2 L1230.6,406.0 L1232.5,402.9 L1234.3,400.0 L1236.2,397.1 L1238.0,394.5 L1239.9,392.0 L1241.8,389.7 L1243.6,387.7 L1245.5,385.8 L1247.3,384.2 L1249.2,382.9 L1251.0,381.8 L1252.9,381.0 L1254.8,380.5 L1256.6,380.2 L1258.5,380.3 L1260.3,380.6 L1262.2,381.2 L1264.0,382.1 L1265.9,383.2 L1267.7,384.6 L1269.6,386.3 L1271.5,388.2 L1273.3,390.3 L1275.2,392.6 L1277.0,395.2 L1278.9,397.9 L1280.7,400.7 L1282.6,403.7 L1284.5,406.8 L1286.3,410.1 L1288.2,413.4 L1290.0,416.7 L1291.9,420.1 L1293.7,423.5 L1295.6,427.0 L1297.4,430.4 L1299.3,433.8 L1301.2,437.1 L1303.0,440.4 L1304.9,443.6 L1306.7,446.8 L1308.6,449.8 L1310.4,452.8 L1312.3,455.6 L1314.2,458.4 L1316.0,461.0 L1317.9,463.5 L1319.7,465.8 L1321.6,468.1 L1323.4,470.2 L1325.3,472.1 L1327.1,474.0 L1329.0,475.7 L1330.9,477.4 L1330.9,493.0 Z" fill="#9a9a9a" fill-opacity="0.85"/>
<path d="M1239.0,493.0 L1239.0,481.7 L1241.4,480.5 L1243.8,479.2 L1246.2,477.8 L1248.6,476.3 L1250.9,474.7 L1253.3,473.0 L1255.7,471.2 L1258.1,469.2 L1260.5,467.2 L1262.9,465.1 L1265.2,462.9 L1267.6,460.6 L1270.0,458.2 L1272.4,455.7 L1274.8,453.2 L1277.2,450.6 L1279.5,447.9 L1281.9,445.2 L1284.3,442.5 L1286.7,439.7 L1289.1,436.9 L1291.5,434.2 L1293.8,431.5 L1296.2,428.8 L1298.6,426.2 L1301.0,423.6 L1303.4,421.2 L1305.8,418.8 L1308.1,416.6 L1310.5,414.5 L1312.9,412.5 L1315.3,410.7 L1317.7,409.1 L1320.1,407.7 L1322.4,406.5 L1324.8,405.5 L1327.2,404.7 L1329.6,404.2 L1332.0,403.8 L1334.4,403.7 L1336.7,403.9 L1339.1,404.2 L1341.5,404.8 L1343.9,405.6 L1346.3,406.7 L1348.7,407.9 L1351.0,409.4 L1353.4,411.0 L1355.8,412.8 L1358.2,414.8 L1360.6,416.9 L1363.0,419.1 L1365.3,421.5 L1367.7,424.0 L1370.1,426.5 L1372.5,429.2 L1374.9,431.9 L1377.3,434.6 L1379.6,437.3 L1382.0,440.1 L1384.4,442.9 L1386.8,445.6 L1389.2,448.3 L1391.6,450.9 L1393.9,453.5 L1396.3,456.1 L1398.7,458.5 L1401.1,460.9 L1403.5,463.2 L1405.9,465.4 L1408.2,467.5 L1410.6,469.5 L1413.0,471.4 L1415.4,473.2 L1417.8,474.9 L1420.2,476.5 L1422.5,478.0 L1424.9,479.4 L1427.3,480.7 L1429.7,481.9 L1429.7,493.0 Z" fill="#4a4ca8" fill-opacity="0.62"/>
<line x1="964.3" y1="493" x2="1490" y2="493" stroke="#000" stroke-width="3"/>
<line x1="977.3" y1="278.0" x2="977.3" y2="493.0" stroke="#000" stroke-width="3"/>
<line x1="977.0" y1="493" x2="977.0" y2="509.0" stroke="#000" stroke-width="3"/>
<line x1="1019.7" y1="493" x2="1019.7" y2="501.5" stroke="#000" stroke-width="3"/>
<line x1="1062.4" y1="493" x2="1062.4" y2="509.0" stroke="#000" stroke-width="3"/>
<line x1="1105.0" y1="493" x2="1105.0" y2="501.5" stroke="#000" stroke-width="3"/>
<line x1="1147.7" y1="493" x2="1147.7" y2="509.0" stroke="#000" stroke-width="3"/>
<line x1="1190.4" y1="493" x2="1190.4" y2="501.5" stroke="#000" stroke-width="3"/>
<line x1="1233.0" y1="493" x2="1233.0" y2="509.0" stroke="#000" stroke-width="3"/>
<line x1="1275.7" y1="493" x2="1275.7" y2="501.5" stroke="#000" stroke-width="3"/>
<line x1="1318.4" y1="493" x2="1318.4" y2="509.0" stroke="#000" stroke-width="3"/>
<line x1="1361.1" y1="493" x2="1361.1" y2="503.5" stroke="#000" stroke-width="3"/>
<line x1="1403.8" y1="493" x2="1403.8" y2="509.0" stroke="#000" stroke-width="3"/>
<line x1="1446.4" y1="493" x2="1446.4" y2="501.5" stroke="#000" stroke-width="3"/>
<line x1="1489.1" y1="493" x2="1489.1" y2="509.0" stroke="#000" stroke-width="3"/>
<line x1="964.3" y1="431.7" x2="977.3" y2="431.7" stroke="#000" stroke-width="3"/>
<line x1="964.3" y1="370.4" x2="977.3" y2="370.4" stroke="#000" stroke-width="3"/>
<line x1="964.3" y1="309.1" x2="977.3" y2="309.1" stroke="#000" stroke-width="3"/>
<line x1="970.3" y1="462.4" x2="977.3" y2="462.4" stroke="#000" stroke-width="3"/>
<line x1="970.3" y1="401.1" x2="977.3" y2="401.1" stroke="#000" stroke-width="3"/>
<line x1="970.3" y1="339.8" x2="977.3" y2="339.8" stroke="#000" stroke-width="3"/>
<line x1="970.3" y1="278.5" x2="977.3" y2="278.5" stroke="#000" stroke-width="3"/>
<line x1="1148.4" y1="187.2" x2="1148.4" y2="493.0" stroke="#00693e" stroke-width="3.4" stroke-dasharray="11.2 9.2" stroke-dashoffset="0"/>
<line x1="1257.3" y1="381.0" x2="1257.3" y2="493.0" stroke="#4d4d4d" stroke-width="3.4" stroke-dasharray="11.2 9.2" stroke-dashoffset="0"/>
<line x1="1334.2" y1="404.0" x2="1334.2" y2="493.0" stroke="#171c6e" stroke-width="3.4" stroke-dasharray="11.2 9.2" stroke-dashoffset="4.3"/>
<polyline points="1062.4,492.9 1064.1,492.9 1065.8,492.9 1067.5,492.8 1069.2,492.8 1070.9,492.7 1072.6,492.6 1074.3,492.5 1076.0,492.3 1077.7,492.1 1079.4,491.9 1081.1,491.5 1082.8,491.1 1084.5,490.6 1086.2,490.0 1088.0,489.2 1089.7,488.2 1091.4,487.1 1093.1,485.7 1094.8,484.1 1096.5,482.2 1098.2,479.9 1099.9,477.3 1101.6,474.2 1103.3,470.7 1105.0,466.7 1106.7,462.2 1108.4,457.2 1110.1,451.7 1111.9,445.5 1113.6,438.8 1115.3,431.6 1117.0,423.8 1118.7,415.6 1120.4,406.9 1122.1,397.9 1123.8,388.6 1125.5,379.1 1127.2,369.6 1128.9,360.1 1130.6,350.8 1132.3,341.8 1134.0,333.3 1135.8,325.4 1137.5,318.3 1139.2,312.0 1140.9,306.7 1142.6,302.4 1144.3,299.3 1146.0,297.5 1147.7,296.8 1149.4,297.5 1151.1,299.3 1152.8,302.4 1154.5,306.7 1156.2,312.0 1157.9,318.3 1159.6,325.4 1161.4,333.3 1163.1,341.8 1164.8,350.8 1166.5,360.1 1168.2,369.6 1169.9,379.1 1171.6,388.6 1173.3,397.9 1175.0,406.9 1176.7,415.6 1178.4,423.8 1180.1,431.6 1181.8,438.8 1183.5,445.5 1185.3,451.7 1187.0,457.2 1188.7,462.2 1190.4,466.7 1192.1,470.7 1193.8,474.2 1195.5,477.3 1197.2,479.9 1198.9,482.2 1200.6,484.1 1202.3,485.7 1204.0,487.1 1205.7,488.2 1207.4,489.2 1209.2,490.0 1210.9,490.6 1212.6,491.1 1214.3,491.5 1216.0,491.9 1217.7,492.1 1219.4,492.3 1221.1,492.5 1222.8,492.6 1224.5,492.7 1226.2,492.8 1227.9,492.8 1229.6,492.9 1231.3,492.9 1233.0,492.9" fill="none" stroke="#00693e" stroke-width="3.0" stroke-linejoin="round" stroke-linecap="round" />
<polyline points="1110.1,493.0 1111.9,492.9 1113.6,492.9 1115.3,492.9 1117.0,492.9 1118.7,492.9 1120.4,492.9 1122.1,492.9 1123.8,492.8 1125.5,492.8 1127.2,492.8 1128.9,492.7 1130.6,492.7 1132.3,492.6 1134.0,492.6 1135.8,492.5 1137.5,492.4 1139.2,492.3 1140.9,492.2 1142.6,492.1 1144.3,491.9 1146.0,491.8 1147.7,491.6 1149.4,491.4 1151.1,491.2 1152.8,490.9 1154.5,490.6 1156.2,490.3 1157.9,489.9 1159.6,489.5 1161.4,489.1 1163.1,488.6 1164.8,488.0 1166.5,487.4 1168.2,486.8 1169.9,486.1 1171.6,485.3 1173.3,484.4 1175.0,483.5 1176.7,482.5 1178.4,481.3 1180.1,480.2 1181.8,478.9 1183.5,477.5 1185.3,476.0 1187.0,474.5 1188.7,472.8 1190.4,471.0 1192.1,469.1 1193.8,467.1 1195.5,465.0 1197.2,462.8 1198.9,460.5 1200.6,458.1 1202.3,455.6 1204.0,452.9 1205.7,450.2 1207.4,447.5 1209.2,444.6 1210.9,441.7 1212.6,438.7 1214.3,435.6 1216.0,432.5 1217.7,429.4 1219.4,426.2 1221.1,423.1 1222.8,419.9 1224.5,416.8 1226.2,413.7 1227.9,410.7 1229.6,407.7 1231.3,404.8 1233.0,402.0 1234.8,399.3 1236.5,396.7 1238.2,394.3 1239.9,392.0 1241.6,389.9 1243.3,388.0 1245.0,386.3 1246.7,384.7 1248.4,383.4 1250.1,382.3 1251.8,381.4 1253.5,380.8 1255.2,380.4 1256.9,380.2 1258.7,380.3 1260.4,380.6 1262.1,381.1 1263.8,381.9 1265.5,382.9 1267.2,384.2 1268.9,385.6 1270.6,387.3 1272.3,389.1 1274.0,391.2 1275.7,393.4 1277.4,395.7 1279.1,398.2 1280.8,400.9 1282.6,403.6 1284.3,406.5 1286.0,409.5 1287.7,412.5 1289.4,415.6 1291.1,418.7 1292.8,421.8 1294.5,425.0 1296.2,428.1 1297.9,431.3 1299.6,434.4 1301.3,437.4 1303.0,440.5 1304.7,443.4 1306.5,446.3 1308.2,449.1 1309.9,451.9 1311.6,454.5 1313.3,457.1 1315.0,459.5 1316.7,461.9 1318.4,464.1 1320.1,466.3 1321.8,468.3 1323.5,470.3 1325.2,472.1 1326.9,473.8 1328.6,475.4 1330.3,476.9 1332.1,478.3 1333.8,479.7 1335.5,480.9 1337.2,482.0 1338.9,483.1 1340.6,484.0 1342.3,484.9 1344.0,485.8 1345.7,486.5 1347.4,487.2 1349.1,487.8 1350.8,488.4 1352.5,488.9 1354.2,489.4 1356.0,489.8 1357.7,490.1 1359.4,490.5 1361.1,490.8 1362.8,491.1 1364.5,491.3 1366.2,491.5 1367.9,491.7 1369.6,491.9 1371.3,492.0 1373.0,492.2 1374.7,492.3 1376.4,492.4 1378.1,492.5 1379.9,492.5 1381.6,492.6 1383.3,492.7 1385.0,492.7 1386.7,492.7 1388.4,492.8 1390.1,492.8 1391.8,492.8 1393.5,492.9 1395.2,492.9 1396.9,492.9 1398.6,492.9 1400.3,492.9 1402.0,492.9 1403.8,493.0" fill="none" stroke="#4d4d4d" stroke-width="3.0" stroke-linejoin="round" stroke-linecap="round" />
<polyline points="1147.7,493.0 1149.4,493.0 1151.1,493.0 1152.8,493.0 1154.5,492.9 1156.2,492.9 1157.9,492.9 1159.6,492.9 1161.4,492.9 1163.1,492.9 1164.8,492.9 1166.5,492.9 1168.2,492.8 1169.9,492.8 1171.6,492.8 1173.3,492.8 1175.0,492.7 1176.7,492.7 1178.4,492.7 1180.1,492.6 1181.8,492.6 1183.5,492.5 1185.3,492.4 1187.0,492.4 1188.7,492.3 1190.4,492.2 1192.1,492.1 1193.8,492.0 1195.5,491.9 1197.2,491.8 1198.9,491.6 1200.6,491.5 1202.3,491.3 1204.0,491.1 1205.7,490.9 1207.4,490.7 1209.2,490.5 1210.9,490.2 1212.6,490.0 1214.3,489.7 1216.0,489.3 1217.7,489.0 1219.4,488.6 1221.1,488.2 1222.8,487.8 1224.5,487.3 1226.2,486.8 1227.9,486.2 1229.6,485.7 1231.3,485.0 1233.0,484.4 1234.8,483.7 1236.5,482.9 1238.2,482.1 1239.9,481.3 1241.6,480.4 1243.3,479.5 1245.0,478.5 1246.7,477.5 1248.4,476.4 1250.1,475.3 1251.8,474.1 1253.5,472.8 1255.2,471.5 1256.9,470.2 1258.7,468.8 1260.4,467.3 1262.1,465.8 1263.8,464.3 1265.5,462.7 1267.2,461.0 1268.9,459.3 1270.6,457.6 1272.3,455.8 1274.0,454.0 1275.7,452.1 1277.4,450.3 1279.1,448.4 1280.8,446.4 1282.6,444.5 1284.3,442.5 1286.0,440.5 1287.7,438.6 1289.4,436.6 1291.1,434.6 1292.8,432.7 1294.5,430.7 1296.2,428.8 1297.9,426.9 1299.6,425.1 1301.3,423.3 1303.0,421.5 1304.7,419.8 1306.5,418.1 1308.2,416.6 1309.9,415.0 1311.6,413.6 1313.3,412.2 1315.0,411.0 1316.7,409.8 1318.4,408.7 1320.1,407.7 1321.8,406.8 1323.5,406.0 1325.2,405.4 1326.9,404.8 1328.6,404.4 1330.3,404.0 1332.1,403.8 1333.8,403.8 1335.5,403.8 1337.2,403.9 1338.9,404.2 1340.6,404.6 1342.3,405.1 1344.0,405.7 1345.7,406.4 1347.4,407.2 1349.1,408.2 1350.8,409.2 1352.5,410.4 1354.2,411.6 1356.0,412.9 1357.7,414.3 1359.4,415.8 1361.1,417.3 1362.8,419.0 1364.5,420.6 1366.2,422.4 1367.9,424.2 1369.6,426.0 1371.3,427.9 1373.0,429.8 1374.7,431.7 1376.4,433.6 1378.1,435.6 1379.9,437.6 1381.6,439.6 1383.3,441.5 1385.0,443.5 1386.7,445.5 1388.4,447.4 1390.1,449.3 1391.8,451.2 1393.5,453.1 1395.2,454.9 1396.9,456.7 1398.6,458.5 1400.3,460.2 1402.0,461.8 1403.8,463.5 1405.5,465.0 1407.2,466.6 1408.9,468.1 1410.6,469.5 1412.3,470.9 1414.0,472.2 1415.7,473.5 1417.4,474.7 1419.1,475.8 1420.8,476.9 1422.5,478.0 1424.2,479.0 1425.9,480.0 1427.6,480.9 1429.4,481.7 1431.1,482.6 1432.8,483.3 1434.5,484.0 1436.2,484.7 1437.9,485.4 1439.6,486.0 1441.3,486.5 1443.0,487.0 1444.7,487.5 1446.4,488.0 1448.1,488.4 1449.8,488.8 1451.5,489.2 1453.3,489.5 1455.0,489.8 1456.7,490.1 1458.4,490.4 1460.1,490.6 1461.8,490.8 1463.5,491.0 1465.2,491.2 1466.9,491.4 1468.6,491.6 1470.3,491.7 1472.0,491.8 1473.7,492.0 1475.4,492.1 1477.2,492.2 1478.9,492.3 1480.6,492.3 1482.3,492.4 1484.0,492.5 1485.7,492.5 1487.4,492.6 1489.1,492.6 1490.8,492.7 1492.5,492.7" fill="none" stroke="#1d2088" stroke-width="3.0" stroke-linejoin="round" stroke-linecap="round" />
<path d="M1096.9,977.0 L1096.9,954.6 L1098.2,952.3 L1099.4,949.8 L1100.7,947.1 L1102.0,944.2 L1103.2,941.2 L1104.5,938.0 L1105.8,934.5 L1107.0,931.0 L1108.3,927.2 L1109.6,923.2 L1110.9,919.1 L1112.1,914.8 L1113.4,910.4 L1114.7,905.9 L1115.9,901.2 L1117.2,896.4 L1118.5,891.5 L1119.7,886.6 L1121.0,881.6 L1122.3,876.5 L1123.6,871.5 L1124.8,866.5 L1126.1,861.6 L1127.4,856.7 L1128.6,852.0 L1129.9,847.4 L1131.2,842.9 L1132.5,838.7 L1133.7,834.6 L1135.0,830.8 L1136.3,827.3 L1137.5,824.1 L1138.8,821.2 L1140.1,818.7 L1141.3,816.5 L1142.6,814.7 L1143.9,813.2 L1145.2,812.2 L1146.4,811.6 L1147.7,811.4 L1149.0,811.6 L1150.2,812.2 L1151.5,813.2 L1152.8,814.7 L1154.1,816.5 L1155.3,818.7 L1156.6,821.2 L1157.9,824.1 L1159.1,827.3 L1160.4,830.8 L1161.7,834.6 L1162.9,838.7 L1164.2,842.9 L1165.5,847.4 L1166.8,852.0 L1168.0,856.7 L1169.3,861.6 L1170.6,866.5 L1171.8,871.5 L1173.1,876.5 L1174.4,881.6 L1175.7,886.6 L1176.9,891.5 L1178.2,896.4 L1179.5,901.2 L1180.7,905.9 L1182.0,910.4 L1183.3,914.8 L1184.5,919.1 L1185.8,923.2 L1187.1,927.2 L1188.4,931.0 L1189.6,934.5 L1190.9,938.0 L1192.2,941.2 L1193.4,944.2 L1194.7,947.1 L1196.0,949.8 L1197.2,952.3 L1198.5,954.6 L1198.5,977.0 Z" fill="#7fc9a0" fill-opacity="1"/>
<path d="M1335.9,977.0 L1335.9,963.5 L1338.0,962.1 L1340.1,960.7 L1342.2,959.1 L1344.2,957.4 L1346.3,955.6 L1348.4,953.7 L1350.5,951.7 L1352.6,949.6 L1354.7,947.4 L1356.8,945.1 L1358.8,942.8 L1360.9,940.3 L1363.0,937.7 L1365.1,935.0 L1367.2,932.3 L1369.3,929.5 L1371.4,926.7 L1373.4,923.8 L1375.5,920.9 L1377.6,917.9 L1379.7,915.0 L1381.8,912.1 L1383.9,909.2 L1386.0,906.3 L1388.0,903.5 L1390.1,900.8 L1392.2,898.1 L1394.3,895.6 L1396.4,893.1 L1398.5,890.9 L1400.6,888.7 L1402.6,886.7 L1404.7,884.9 L1406.8,883.3 L1408.9,881.9 L1411.0,880.7 L1413.1,879.7 L1415.2,879.0 L1417.2,878.5 L1419.3,878.2 L1421.4,878.1 L1423.5,878.3 L1425.6,878.7 L1427.7,879.4 L1429.8,880.3 L1431.8,881.4 L1433.9,882.7 L1436.0,884.2 L1438.1,885.9 L1440.2,887.8 L1442.3,889.9 L1444.4,892.1 L1446.4,894.5 L1448.5,897.0 L1450.6,899.6 L1452.7,902.3 L1454.8,905.1 L1456.9,907.9 L1459.0,910.8 L1461.0,913.7 L1463.1,916.7 L1465.2,919.6 L1467.3,922.5 L1469.4,925.4 L1471.5,928.3 L1473.6,931.1 L1475.6,933.9 L1477.7,936.5 L1479.8,939.2 L1481.9,941.7 L1484.0,944.1 L1486.1,946.5 L1488.2,948.7 L1490.2,950.9 L1492.3,952.9 L1494.4,954.8 L1496.5,956.6 L1498.6,958.4 L1500.7,960.0 L1502.8,961.5 L1502.8,977.0 Z" fill="#4a4ca8" fill-opacity="0.62"/>
<path d="M1316.7,977.0 L1316.7,962.1 L1319.4,960.9 L1322.1,959.6 L1324.8,958.2 L1327.5,956.7 L1330.2,955.2 L1332.9,953.7 L1335.6,952.0 L1338.3,950.3 L1341.0,948.6 L1343.7,946.8 L1346.4,944.9 L1349.1,943.0 L1351.8,941.1 L1354.5,939.1 L1357.2,937.2 L1359.9,935.2 L1362.6,933.2 L1365.3,931.2 L1368.0,929.2 L1370.7,927.2 L1373.4,925.3 L1376.1,923.4 L1378.8,921.5 L1381.5,919.7 L1384.2,918.0 L1386.9,916.3 L1389.6,914.8 L1392.3,913.3 L1395.0,911.9 L1397.7,910.7 L1400.4,909.5 L1403.1,908.5 L1405.8,907.6 L1408.5,906.9 L1411.2,906.3 L1413.9,905.8 L1416.6,905.5 L1419.3,905.3 L1422.0,905.3 L1424.7,905.5 L1427.4,905.8 L1430.1,906.2 L1432.8,906.8 L1435.5,907.5 L1438.2,908.4 L1440.9,909.4 L1443.6,910.5 L1446.3,911.7 L1449.0,913.1 L1451.7,914.5 L1454.4,916.1 L1457.1,917.7 L1459.8,919.5 L1462.4,921.2 L1465.1,923.1 L1467.8,925.0 L1470.5,926.9 L1473.2,928.9 L1475.9,930.9 L1478.6,932.9 L1481.3,934.9 L1484.0,936.9 L1486.7,938.8 L1489.4,940.8 L1492.1,942.7 L1494.8,944.6 L1497.5,946.5 L1500.2,948.3 L1502.9,950.0 L1505.6,951.8 L1508.3,953.4 L1511.0,955.0 L1513.7,956.5 L1516.4,958.0 L1519.1,959.4 L1521.8,960.7 L1524.5,961.9 L1527.2,963.1 L1529.9,964.3 L1532.6,965.3 L1532.6,977.0 Z" fill="#555" fill-opacity="0.55"/>
<path d="M1520.7,977.0 L1520.7,960.6 L1522.7,959.0 L1524.8,957.4 L1526.8,955.7 L1528.8,953.8 L1530.9,951.9 L1532.9,949.8 L1534.9,947.7 L1537.0,945.5 L1539.0,943.1 L1541.1,940.7 L1543.1,938.2 L1545.1,935.7 L1547.2,933.0 L1549.2,930.3 L1551.2,927.5 L1553.3,924.7 L1555.3,921.9 L1557.4,919.0 L1559.4,916.1 L1561.4,913.3 L1563.5,910.4 L1565.5,907.6 L1567.5,904.8 L1569.6,902.1 L1571.6,899.5 L1573.7,897.0 L1575.7,894.5 L1577.7,892.2 L1579.8,890.0 L1581.8,888.0 L1583.8,886.1 L1585.9,884.4 L1587.9,882.9 L1590.0,881.6 L1592.0,880.5 L1594.0,879.6 L1596.1,878.9 L1598.1,878.4 L1600.2,878.2 L1602.2,878.1 L1604.2,878.3 L1606.3,878.8 L1608.3,879.4 L1610.3,880.3 L1612.4,881.4 L1614.4,882.7 L1616.5,884.2 L1618.5,885.8 L1620.5,887.7 L1622.6,889.7 L1624.6,891.8 L1626.6,894.1 L1628.7,896.6 L1630.7,899.1 L1632.8,901.7 L1634.8,904.4 L1636.8,907.2 L1638.9,910.0 L1640.9,912.8 L1642.9,915.7 L1645.0,918.6 L1647.0,921.4 L1649.1,924.3 L1651.1,927.1 L1653.1,929.8 L1655.2,932.6 L1657.2,935.2 L1659.2,937.8 L1661.3,940.3 L1663.3,942.8 L1665.4,945.1 L1667.4,947.4 L1669.4,949.5 L1671.5,951.6 L1673.5,953.5 L1675.5,955.4 L1677.6,957.1 L1679.6,958.8 L1681.7,960.3 L1683.7,961.8 L1683.7,977.0 Z" fill="#f7a386" fill-opacity="0.92"/>
<line x1="960.3" y1="977" x2="1746" y2="977" stroke="#000" stroke-width="3"/>
<line x1="977.3" y1="821.0" x2="977.3" y2="977.0" stroke="#000" stroke-width="3"/>
<line x1="977.0" y1="977" x2="977.0" y2="996.0" stroke="#000" stroke-width="3"/>
<line x1="1019.7" y1="977" x2="1019.7" y2="986.5" stroke="#000" stroke-width="3"/>
<line x1="1062.4" y1="977" x2="1062.4" y2="990.5" stroke="#000" stroke-width="3"/>
<line x1="1105.0" y1="977" x2="1105.0" y2="986.5" stroke="#000" stroke-width="3"/>
<line x1="1147.7" y1="977" x2="1147.7" y2="995.0" stroke="#000" stroke-width="3"/>
<line x1="1190.4" y1="977" x2="1190.4" y2="986.5" stroke="#000" stroke-width="3"/>
<line x1="1233.0" y1="977" x2="1233.0" y2="990.5" stroke="#000" stroke-width="3"/>
<line x1="1275.7" y1="977" x2="1275.7" y2="986.5" stroke="#000" stroke-width="3"/>
<line x1="1318.4" y1="977" x2="1318.4" y2="996.0" stroke="#000" stroke-width="3"/>
<line x1="1361.1" y1="977" x2="1361.1" y2="986.5" stroke="#000" stroke-width="3"/>
<line x1="1403.8" y1="977" x2="1403.8" y2="993.5" stroke="#000" stroke-width="3"/>
<line x1="1446.4" y1="977" x2="1446.4" y2="986.5" stroke="#000" stroke-width="3"/>
<line x1="1489.1" y1="977" x2="1489.1" y2="996.5" stroke="#000" stroke-width="3"/>
<line x1="1531.8" y1="977" x2="1531.8" y2="986.5" stroke="#000" stroke-width="3"/>
<line x1="1574.5" y1="977" x2="1574.5" y2="993.5" stroke="#000" stroke-width="3"/>
<line x1="1617.1" y1="977" x2="1617.1" y2="986.5" stroke="#000" stroke-width="3"/>
<line x1="1659.8" y1="977" x2="1659.8" y2="991.0" stroke="#000" stroke-width="3"/>
<line x1="1702.5" y1="977" x2="1702.5" y2="986.5" stroke="#000" stroke-width="3"/>
<line x1="1733.2" y1="977" x2="1733.2" y2="991.0" stroke="#000" stroke-width="3"/>
<line x1="960.3" y1="915.2" x2="977.3" y2="915.2" stroke="#000" stroke-width="3"/>
<line x1="960.3" y1="853.4" x2="977.3" y2="853.4" stroke="#000" stroke-width="3"/>
<line x1="966.3" y1="946.1" x2="977.3" y2="946.1" stroke="#000" stroke-width="3"/>
<line x1="966.3" y1="884.3" x2="977.3" y2="884.3" stroke="#000" stroke-width="3"/>
<line x1="966.3" y1="822.5" x2="977.3" y2="822.5" stroke="#000" stroke-width="3"/>
<line x1="1148.4" y1="675.2" x2="1148.4" y2="977.0" stroke="#00693e" stroke-width="3.4" stroke-dasharray="11.5 12.3" stroke-dashoffset="0"/>
<line x1="1420.8" y1="878.5" x2="1420.8" y2="977.0" stroke="#171c6e" stroke-width="3.4" stroke-dasharray="11.6 11.9" stroke-dashoffset="3.5"/>
<line x1="1420.8" y1="905.5" x2="1420.8" y2="977.0" stroke="#4d4d4d" stroke-width="6" stroke-dasharray="11.2 12.3" stroke-dashoffset="4.8"/>
<line x1="1601.3" y1="891.8" x2="1601.3" y2="977.0" stroke="#e8541f" stroke-width="3.4" stroke-dasharray="10.5 13.4" stroke-dashoffset="0"/>
<polyline points="1045.3,977.0 1047.0,976.9 1048.7,976.9 1050.4,976.9 1052.1,976.9 1053.8,976.8 1055.5,976.8 1057.2,976.7 1058.9,976.6 1060.6,976.5 1062.4,976.4 1064.1,976.3 1065.8,976.1 1067.5,975.9 1069.2,975.6 1070.9,975.3 1072.6,974.9 1074.3,974.4 1076.0,973.9 1077.7,973.3 1079.4,972.5 1081.1,971.6 1082.8,970.6 1084.5,969.5 1086.2,968.1 1088.0,966.6 1089.7,964.8 1091.4,962.8 1093.1,960.6 1094.8,958.1 1096.5,955.3 1098.2,952.2 1099.9,948.8 1101.6,945.0 1103.3,941.0 1105.0,936.6 1106.7,931.8 1108.4,926.8 1110.1,921.4 1111.9,915.8 1113.6,909.8 1115.3,903.7 1117.0,897.3 1118.7,890.7 1120.4,884.0 1122.1,877.3 1123.8,870.6 1125.5,863.9 1127.2,857.3 1128.9,850.9 1130.6,844.8 1132.3,839.0 1134.0,833.6 1135.8,828.7 1137.5,824.3 1139.2,820.5 1140.9,817.2 1142.6,814.7 1144.3,812.9 1146.0,811.7 1147.7,811.4 1149.4,811.7 1151.1,812.9 1152.8,814.7 1154.5,817.2 1156.2,820.5 1157.9,824.3 1159.6,828.7 1161.4,833.6 1163.1,839.0 1164.8,844.8 1166.5,850.9 1168.2,857.3 1169.9,863.9 1171.6,870.6 1173.3,877.3 1175.0,884.0 1176.7,890.7 1178.4,897.3 1180.1,903.7 1181.8,909.8 1183.5,915.8 1185.3,921.4 1187.0,926.8 1188.7,931.8 1190.4,936.6 1192.1,941.0 1193.8,945.0 1195.5,948.8 1197.2,952.2 1198.9,955.3 1200.6,958.1 1202.3,960.6 1204.0,962.8 1205.7,964.8 1207.4,966.6 1209.2,968.1 1210.9,969.5 1212.6,970.6 1214.3,971.6 1216.0,972.5 1217.7,973.3 1219.4,973.9 1221.1,974.4 1222.8,974.9 1224.5,975.3 1226.2,975.6 1227.9,975.9 1229.6,976.1 1231.3,976.3 1233.0,976.4 1234.8,976.5 1236.5,976.6 1238.2,976.7 1239.9,976.8 1241.6,976.8 1243.3,976.9 1245.0,976.9 1246.7,976.9 1248.4,976.9 1250.1,977.0" fill="none" stroke="#00693e" stroke-width="3.0" stroke-linejoin="round" stroke-linecap="round" />
<polyline points="1277.4,976.7 1279.1,976.6 1280.8,976.6 1282.6,976.5 1284.3,976.4 1286.0,976.3 1287.7,976.3 1289.4,976.2 1291.1,976.1 1292.8,975.9 1294.5,975.8 1296.2,975.6 1297.9,975.5 1299.6,975.3 1301.3,975.1 1303.0,974.9 1304.7,974.6 1306.5,974.3 1308.2,974.0 1309.9,973.7 1311.6,973.3 1313.3,972.9 1315.0,972.5 1316.7,972.0 1318.4,971.5 1320.1,971.0 1321.8,970.4 1323.5,969.8 1325.2,969.1 1326.9,968.3 1328.6,967.5 1330.3,966.7 1332.1,965.8 1333.8,964.8 1335.5,963.8 1337.2,962.7 1338.9,961.5 1340.6,960.3 1342.3,959.0 1344.0,957.6 1345.7,956.2 1347.4,954.6 1349.1,953.1 1350.8,951.4 1352.5,949.7 1354.2,947.9 1356.0,946.0 1357.7,944.1 1359.4,942.1 1361.1,940.1 1362.8,938.0 1364.5,935.8 1366.2,933.6 1367.9,931.3 1369.6,929.1 1371.3,926.7 1373.0,924.4 1374.7,922.0 1376.4,919.6 1378.1,917.2 1379.9,914.8 1381.6,912.4 1383.3,910.0 1385.0,907.6 1386.7,905.3 1388.4,903.0 1390.1,900.8 1391.8,898.6 1393.5,896.5 1395.2,894.5 1396.9,892.5 1398.6,890.7 1400.3,888.9 1402.0,887.3 1403.8,885.8 1405.5,884.4 1407.2,883.1 1408.9,881.9 1410.6,880.9 1412.3,880.1 1414.0,879.4 1415.7,878.8 1417.4,878.4 1419.1,878.2 1420.8,878.1 1422.5,878.2 1424.2,878.4 1425.9,878.8 1427.6,879.4 1429.4,880.1 1431.1,880.9 1432.8,881.9 1434.5,883.1 1436.2,884.4 1437.9,885.8 1439.6,887.3 1441.3,888.9 1443.0,890.7 1444.7,892.5 1446.4,894.5 1448.1,896.5 1449.8,898.6 1451.5,900.8 1453.3,903.0 1455.0,905.3 1456.7,907.6 1458.4,910.0 1460.1,912.4 1461.8,914.8 1463.5,917.2 1465.2,919.6 1466.9,922.0 1468.6,924.4 1470.3,926.7 1472.0,929.1 1473.7,931.3 1475.4,933.6 1477.2,935.8 1478.9,938.0 1480.6,940.1 1482.3,942.1 1484.0,944.1 1485.7,946.0 1487.4,947.9 1489.1,949.7 1490.8,951.4 1492.5,953.1 1494.2,954.6 1495.9,956.2 1497.6,957.6 1499.3,959.0 1501.0,960.3 1502.8,961.5 1504.5,962.7 1506.2,963.8 1507.9,964.8 1509.6,965.8 1511.3,966.7 1513.0,967.5 1514.7,968.3 1516.4,969.1 1518.1,969.8 1519.8,970.4 1521.5,971.0 1523.2,971.5 1524.9,972.0 1526.7,972.5 1528.4,972.9 1530.1,973.3 1531.8,973.7 1533.5,974.0 1535.2,974.3 1536.9,974.6 1538.6,974.9 1540.3,975.1 1542.0,975.3 1543.7,975.5 1545.4,975.6 1547.1,975.8 1548.8,975.9 1550.6,976.1 1552.3,976.2 1554.0,976.3 1555.7,976.3 1557.4,976.4 1559.1,976.5 1560.8,976.6 1562.5,976.6" fill="none" stroke="#1d2088" stroke-width="3.0" stroke-linejoin="round" stroke-linecap="round" />
<polyline points="1183.5,977.0 1185.3,977.0 1187.0,977.0 1188.7,977.0 1190.4,977.0 1192.1,977.0 1193.8,977.0 1195.5,977.0 1197.2,976.9 1198.9,976.9 1200.6,976.9 1202.3,976.9 1204.0,976.9 1205.7,976.9 1207.4,976.9 1209.2,976.9 1210.9,976.9 1212.6,976.9 1214.3,976.9 1216.0,976.8 1217.7,976.8 1219.4,976.8 1221.1,976.8 1222.8,976.8 1224.5,976.7 1226.2,976.7 1227.9,976.7 1229.6,976.6 1231.3,976.6 1233.0,976.6 1234.8,976.5 1236.5,976.5 1238.2,976.4 1239.9,976.4 1241.6,976.3 1243.3,976.3 1245.0,976.2 1246.7,976.1 1248.4,976.0 1250.1,976.0 1251.8,975.9 1253.5,975.8 1255.2,975.7 1256.9,975.5 1258.7,975.4 1260.4,975.3 1262.1,975.1 1263.8,975.0 1265.5,974.8 1267.2,974.7 1268.9,974.5 1270.6,974.3 1272.3,974.1 1274.0,973.9 1275.7,973.6 1277.4,973.4 1279.1,973.1 1280.8,972.8 1282.6,972.5 1284.3,972.2 1286.0,971.9 1287.7,971.5 1289.4,971.2 1291.1,970.8 1292.8,970.4 1294.5,969.9 1296.2,969.5 1297.9,969.0 1299.6,968.5 1301.3,968.0 1303.0,967.4 1304.7,966.8 1306.5,966.3 1308.2,965.6 1309.9,965.0 1311.6,964.3 1313.3,963.6 1315.0,962.9 1316.7,962.1 1318.4,961.3 1320.1,960.5 1321.8,959.7 1323.5,958.8 1325.2,958.0 1326.9,957.0 1328.6,956.1 1330.3,955.1 1332.1,954.1 1333.8,953.1 1335.5,952.1 1337.2,951.0 1338.9,949.9 1340.6,948.8 1342.3,947.7 1344.0,946.5 1345.7,945.4 1347.4,944.2 1349.1,943.0 1350.8,941.8 1352.5,940.5 1354.2,939.3 1356.0,938.1 1357.7,936.8 1359.4,935.6 1361.1,934.3 1362.8,933.0 1364.5,931.8 1366.2,930.5 1367.9,929.2 1369.6,928.0 1371.3,926.8 1373.0,925.5 1374.7,924.3 1376.4,923.1 1378.1,922.0 1379.9,920.8 1381.6,919.7 1383.3,918.6 1385.0,917.5 1386.7,916.5 1388.4,915.5 1390.1,914.5 1391.8,913.6 1393.5,912.7 1395.2,911.8 1396.9,911.0 1398.6,910.3 1400.3,909.5 1402.0,908.9 1403.8,908.3 1405.5,907.7 1407.2,907.2 1408.9,906.8 1410.6,906.4 1412.3,906.1 1414.0,905.8 1415.7,905.6 1417.4,905.4 1419.1,905.3 1420.8,905.3 1422.5,905.3 1424.2,905.4 1425.9,905.6 1427.6,905.8 1429.4,906.1 1431.1,906.4 1432.8,906.8 1434.5,907.2 1436.2,907.7 1437.9,908.3 1439.6,908.9 1441.3,909.5 1443.0,910.3 1444.7,911.0 1446.4,911.8 1448.1,912.7 1449.8,913.6 1451.5,914.5 1453.3,915.5 1455.0,916.5 1456.7,917.5 1458.4,918.6 1460.1,919.7 1461.8,920.8 1463.5,922.0 1465.2,923.1 1466.9,924.3 1468.6,925.5 1470.3,926.8 1472.0,928.0 1473.7,929.2 1475.4,930.5 1477.2,931.8 1478.9,933.0 1480.6,934.3 1482.3,935.6 1484.0,936.8 1485.7,938.1 1487.4,939.3 1489.1,940.5 1490.8,941.8 1492.5,943.0 1494.2,944.2 1495.9,945.4 1497.6,946.5 1499.3,947.7 1501.0,948.8 1502.8,949.9 1504.5,951.0 1506.2,952.1 1507.9,953.1 1509.6,954.1 1511.3,955.1 1513.0,956.1 1514.7,957.0 1516.4,958.0 1518.1,958.8 1519.8,959.7 1521.5,960.5 1523.2,961.3 1524.9,962.1 1526.7,962.9 1528.4,963.6 1530.1,964.3 1531.8,965.0 1533.5,965.6 1535.2,966.3 1536.9,966.8 1538.6,967.4 1540.3,968.0 1542.0,968.5 1543.7,969.0 1545.4,969.5 1547.1,969.9 1548.8,970.4 1550.6,970.8 1552.3,971.2 1554.0,971.5 1555.7,971.9 1557.4,972.2 1559.1,972.5 1560.8,972.8 1562.5,973.1 1564.2,973.4 1565.9,973.6 1567.6,973.9 1569.3,974.1 1571.0,974.3 1572.7,974.5 1574.5,974.7 1576.2,974.8 1577.9,975.0 1579.6,975.1 1581.3,975.3 1583.0,975.4 1584.7,975.5 1586.4,975.7 1588.1,975.8 1589.8,975.9 1591.5,976.0 1593.2,976.0 1594.9,976.1 1596.6,976.2 1598.3,976.3 1600.1,976.3 1601.8,976.4 1603.5,976.4 1605.2,976.5 1606.9,976.5 1608.6,976.6 1610.3,976.6 1612.0,976.6 1613.7,976.7 1615.4,976.7 1617.1,976.7 1618.8,976.8 1620.5,976.8 1622.2,976.8 1624.0,976.8 1625.7,976.8 1627.4,976.9 1629.1,976.9 1630.8,976.9 1632.5,976.9 1634.2,976.9 1635.9,976.9 1637.6,976.9 1639.3,976.9 1641.0,976.9 1642.7,976.9 1644.4,976.9 1646.1,977.0 1647.9,977.0 1649.6,977.0 1651.3,977.0 1653.0,977.0 1654.7,977.0 1656.4,977.0 1658.1,977.0 1659.8,977.0" fill="none" stroke="#4d4d4d" stroke-width="3.0" stroke-linejoin="round" stroke-linecap="round" />
<polyline points="1396.1,977.0 1397.8,977.0 1399.5,977.0 1401.2,977.0 1402.9,977.0 1404.6,977.0 1406.3,977.0 1408.0,977.0 1409.7,977.0 1411.4,977.0 1413.1,977.0 1414.8,977.0 1416.6,977.0 1418.3,977.0 1420.0,977.0 1421.7,977.0 1423.4,977.0 1425.1,977.0 1426.8,977.0 1428.5,977.0 1430.2,977.0 1431.9,977.0 1433.6,977.0 1435.3,977.0 1437.0,976.9 1438.7,976.9 1440.5,976.9 1442.2,976.9 1443.9,976.9 1445.6,976.9 1447.3,976.9 1449.0,976.8 1450.7,976.8 1452.4,976.8 1454.1,976.8 1455.8,976.7 1457.5,976.7 1459.2,976.6 1460.9,976.6 1462.6,976.5 1464.3,976.4 1466.1,976.4 1467.8,976.3 1469.5,976.2 1471.2,976.1 1472.9,976.0 1474.6,975.8 1476.3,975.7 1478.0,975.5 1479.7,975.3 1481.4,975.1 1483.1,974.9 1484.8,974.7 1486.5,974.4 1488.2,974.1 1490.0,973.8 1491.7,973.4 1493.4,973.0 1495.1,972.6 1496.8,972.2 1498.5,971.7 1500.2,971.1 1501.9,970.5 1503.6,969.9 1505.3,969.2 1507.0,968.5 1508.7,967.7 1510.4,966.9 1512.1,966.0 1513.9,965.0 1515.6,964.0 1517.3,962.9 1519.0,961.8 1520.7,960.6 1522.4,959.3 1524.1,957.9 1525.8,956.5 1527.5,955.0 1529.2,953.5 1530.9,951.8 1532.6,950.1 1534.3,948.4 1536.0,946.5 1537.7,944.6 1539.5,942.6 1541.2,940.6 1542.9,938.5 1544.6,936.4 1546.3,934.2 1548.0,931.9 1549.7,929.6 1551.4,927.3 1553.1,925.0 1554.8,922.6 1556.5,920.2 1558.2,917.8 1559.9,915.4 1561.6,913.0 1563.4,910.6 1565.1,908.2 1566.8,905.9 1568.5,903.6 1570.2,901.4 1571.9,899.2 1573.6,897.0 1575.3,895.0 1577.0,893.0 1578.7,891.1 1580.4,889.4 1582.1,887.7 1583.8,886.1 1585.5,884.7 1587.3,883.4 1589.0,882.2 1590.7,881.2 1592.4,880.3 1594.1,879.5 1595.8,879.0 1597.5,878.5 1599.2,878.2 1600.9,878.1 1602.6,878.2 1604.3,878.4 1606.0,878.7 1607.7,879.2 1609.4,879.9 1611.2,880.7 1612.9,881.7 1614.6,882.8 1616.3,884.0 1618.0,885.4 1619.7,886.9 1621.4,888.5 1623.1,890.2 1624.8,892.1 1626.5,894.0 1628.2,896.0 1629.9,898.1 1631.6,900.3 1633.3,902.5 1635.0,904.7 1636.8,907.1 1638.5,909.4 1640.2,911.8 1641.9,914.2 1643.6,916.6 1645.3,919.0 1647.0,921.4 1648.7,923.8 1650.4,926.1 1652.1,928.5 1653.8,930.8 1655.5,933.0 1657.2,935.3 1658.9,937.4 1660.7,939.6 1662.4,941.6 1664.1,943.6 1665.8,945.6 1667.5,947.4 1669.2,949.3 1670.9,951.0 1672.6,952.7 1674.3,954.3 1676.0,955.8 1677.7,957.2 1679.4,958.6 1681.1,959.9 1682.8,961.2 1684.6,962.4 1686.3,963.5 1688.0,964.5 1689.7,965.5 1691.4,966.5 1693.1,967.3 1694.8,968.1 1696.5,968.9 1698.2,969.6 1699.9,970.2 1701.6,970.8 1703.3,971.4 1705.0,971.9 1706.7,972.4 1708.4,972.8 1710.2,973.2 1711.9,973.6 1713.6,973.9 1715.3,974.3 1717.0,974.5 1718.7,974.8 1720.4,975.0 1722.1,975.2 1723.8,975.4 1725.5,975.6 1727.2,975.8 1728.9,975.9 1730.6,976.0 1732.3,976.1 1734.1,976.2 1735.8,976.3 1737.5,976.4 1739.2,976.5 1740.9,976.5 1742.6,976.6 1744.3,976.6 1746.0,976.7 1747.7,976.7 1749.4,976.8 1751.1,976.8 1752.8,976.8 1753.0,976.8 1753.0,976.9 1753.0,976.9 1753.0,976.9 1753.0,976.9" fill="none" stroke="#e8541f" stroke-width="3.0" stroke-linejoin="round" stroke-linecap="round" />
<text x="949.5" y="498.9" fill="#231815" stroke="#231815" stroke-width="0.25" font-size="27.3" text-anchor="end" font-weight="normal" >0</text>
<text x="959.0" y="437.4" fill="#231815" stroke="#231815" stroke-width="0.25" font-size="27.3" text-anchor="end" font-weight="normal" >5×10<tspan font-size="16" dy="-7.5">−3</tspan></text>
<text x="959.0" y="376.1" fill="#231815" stroke="#231815" stroke-width="0.25" font-size="27.3" text-anchor="end" font-weight="normal" >10×10<tspan font-size="16" dy="-7.5">−3</tspan></text>
<text x="959.0" y="314.8" fill="#231815" stroke="#231815" stroke-width="0.25" font-size="27.3" text-anchor="end" font-weight="normal" >15×10<tspan font-size="16" dy="-7.5">−3</tspan></text>
<text x="935.6" y="983.5" fill="#231815" stroke="#231815" stroke-width="0.25" font-size="27.3" text-anchor="end" font-weight="normal" >0</text>
<text x="950.5" y="920.7" fill="#231815" stroke="#231815" stroke-width="0.25" font-size="27.3" text-anchor="end" font-weight="normal" >5×10<tspan font-size="16" dy="-7.5">−3</tspan></text>
<text x="950.5" y="858.9" fill="#231815" stroke="#231815" stroke-width="0.25" font-size="27.3" text-anchor="end" font-weight="normal" >10×10<tspan font-size="16" dy="-7.5">−3</tspan></text>
<text x="972.0" y="535.5" fill="#231815" stroke="#231815" stroke-width="0.25" font-size="27.3" text-anchor="middle" font-weight="normal" >−200</text>
<text x="1148.7" y="535.5" fill="#231815" stroke="#231815" stroke-width="0.25" font-size="27.3" text-anchor="middle" font-weight="normal" >0</text>
<text x="1321.9" y="535.5" fill="#231815" stroke="#231815" stroke-width="0.25" font-size="27.3" text-anchor="middle" font-weight="normal" >200</text>
<text x="1490.6" y="535.5" fill="#231815" stroke="#231815" stroke-width="0.25" font-size="27.3" text-anchor="middle" font-weight="normal" >400</text>
<text x="965.7" y="1027.5" fill="#231815" stroke="#231815" stroke-width="0.25" font-size="27.3" text-anchor="middle" font-weight="normal" >−200</text>
<text x="1148.5" y="1027.5" fill="#231815" stroke="#231815" stroke-width="0.25" font-size="27.3" text-anchor="middle" font-weight="normal" >0</text>
<text x="1319.4" y="1027.5" fill="#231815" stroke="#231815" stroke-width="0.25" font-size="27.3" text-anchor="middle" font-weight="normal" >200</text>
<text x="1490.6" y="1027.5" fill="#231815" stroke="#231815" stroke-width="0.25" font-size="27.3" text-anchor="middle" font-weight="normal" >400</text>
<text x="1663.3" y="1027.5" fill="#231815" stroke="#231815" stroke-width="0.25" font-size="27.3" text-anchor="middle" font-weight="normal" >600</text>
<text x="847.5" y="376.0" fill="#231815" stroke="#231815" stroke-width="0.25" font-size="27.3" text-anchor="middle" font-weight="normal" transform="rotate(-90 847.5 376.0)" >Probability</text>
<text x="847.5" y="895.0" fill="#231815" stroke="#231815" stroke-width="0.25" font-size="27.3" text-anchor="middle" font-weight="normal" transform="rotate(-90 847.5 895.0)" >Probability</text>
<text x="1245.6" y="577.0" fill="#231815" stroke="#231815" stroke-width="0.25" font-size="27.3" text-anchor="middle" font-weight="normal" >(x−23,910 y BP) years</text>
<text x="1357.8" y="1067.0" fill="#231815" stroke="#231815" stroke-width="0.25" font-size="27.3" text-anchor="middle" font-weight="normal" >(x−23,510 y BP) years</text>
<text x="840.0" y="142.0" fill="#231815" stroke="#231815" stroke-width="0.25" font-size="27.3" text-anchor="start" font-weight="bold" >f</text>
<text x="840.0" y="668.5" fill="#231815" stroke="#231815" stroke-width="0.25" font-size="27.3" text-anchor="start" font-weight="bold" >g</text>
<text x="944.2" y="184.2" fill="#231815" stroke="#231815" stroke-width="0.25" font-size="27.3" text-anchor="start" font-weight="normal" >SASM lags</text>
<text x="1215.1" y="184.2" fill="#231815" stroke="#231815" stroke-width="0.25" font-size="27.3" text-anchor="start" font-weight="normal" >SASM leads</text>
<line x1="1116.3" y1="176.6" x2="1177.6" y2="176.6" stroke="#231815" stroke-width="2.5"/>
<path d="M1098.8,176.6 L1121.3,167.0 L1117.2,176.6 L1121.3,186.2 Z" fill="#231815"/>
<path d="M1195.1,176.6 L1172.6,167.0 L1176.6,176.6 L1172.6,186.2 Z" fill="#231815"/>
<text x="944.2" y="669.3" fill="#231815" stroke="#231815" stroke-width="0.25" font-size="27.3" text-anchor="start" font-weight="normal" >SASM lags</text>
<text x="1215.1" y="669.3" fill="#231815" stroke="#231815" stroke-width="0.25" font-size="27.3" text-anchor="start" font-weight="normal" >SASM leads</text>
<line x1="1116.3" y1="661.5" x2="1177.6" y2="661.5" stroke="#231815" stroke-width="2.5"/>
<path d="M1098.8,661.5 L1121.3,651.9 L1117.2,661.5 L1121.3,671.1 Z" fill="#231815"/>
<path d="M1195.1,661.5 L1172.6,651.9 L1176.6,661.5 L1172.6,671.1 Z" fill="#231815"/>
<text x="1121.0" y="237.8" fill="#00693e" stroke="#00693e" stroke-width="0.25" font-size="27.3" text-anchor="end" font-weight="normal" >Start of stage I</text>
<text x="1121.0" y="270.8" fill="#00693e" stroke="#00693e" stroke-width="0.25" font-size="27.3" text-anchor="end" font-weight="normal" >in Cherrapunji</text>
<text x="1322.6" y="237.8" fill="#595757" stroke="#595757" stroke-width="0.25" font-size="27.3" text-anchor="middle" font-weight="normal" >Initial drying in BTV-4C</text>
<text x="1321.7" y="270.8" fill="#1d2088" stroke="#1d2088" stroke-width="0.25" font-size="27.3" text-anchor="middle" font-weight="normal" >Initial drying in MAG</text>
<text x="1029.6" y="741.5" fill="#00693e" stroke="#00693e" stroke-width="0.25" font-size="27.3" text-anchor="middle" font-weight="normal" >End of AHP2</text>
<text x="1028.6" y="775.2" fill="#00693e" stroke="#00693e" stroke-width="0.25" font-size="27.3" text-anchor="middle" font-weight="normal" >in Cherrapunji</text>
<text x="1325.4" y="720.1" fill="#1d2088" stroke="#1d2088" stroke-width="0.25" font-size="27.4" text-anchor="middle" font-weight="normal" >End of SAHP2 in MAG</text>
<text x="1331.7" y="755.5" fill="#595757" stroke="#595757" stroke-width="0.25" font-size="27.4" text-anchor="middle" font-weight="normal" >End of SAHP2 in BTV-4C</text>
<text x="1327.1" y="792.6" fill="#e8541f" stroke="#e8541f" stroke-width="0.25" font-size="28.2" text-anchor="middle" font-weight="normal" >End of SAHP2 in NAR-C</text>
</svg>
</body></html>
